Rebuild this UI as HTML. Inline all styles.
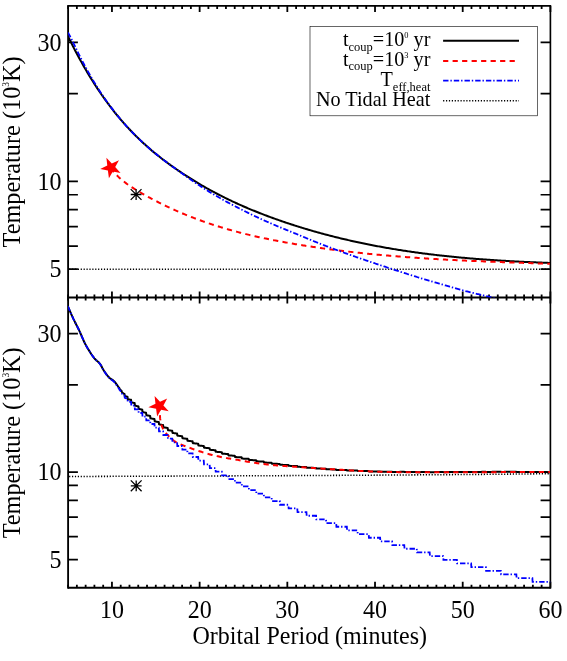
<!DOCTYPE html>
<html><head><meta charset="utf-8"><title>Tidal heating</title>
<style>html,body{margin:0;padding:0;background:#fff;}svg{display:block;will-change:transform;}text{fill:#000;font-family:"Liberation Serif",serif;}</style></head>
<body>
<svg width="567" height="661" viewBox="0 0 567 661">
<rect x="0" y="0" width="567" height="661" fill="#ffffff"/>
<defs><clipPath id="ct"><rect x="68.1" y="5.9" width="482.29999999999995" height="291.5"/></clipPath><clipPath id="cb"><rect x="68.1" y="297.4" width="482.29999999999995" height="290.30000000000007"/></clipPath></defs>
<path d="M68.1,5.1000000000000005 V588.7" stroke="#000" fill="none" stroke-width="1.85"/>
<path d="M550.4,5.1000000000000005 V588.7" stroke="#000" fill="none" stroke-width="1.65"/>
<path d="M68.1,5.9 H550.4" stroke="#000" fill="none" stroke-width="1.6"/>
<path d="M68.1,297.4 H550.4 M68.1,587.7 H550.4" stroke="#000" fill="none" stroke-width="2"/>
<path d="M68.10,5.9 v3.0 M68.10,294.4 v6.0 M68.10,587.7 v-3.0 M76.87,5.9 v3.0 M76.87,294.4 v6.0 M76.87,587.7 v-3.0 M85.64,5.9 v3.0 M85.64,294.4 v6.0 M85.64,587.7 v-3.0 M94.41,5.9 v3.0 M94.41,294.4 v6.0 M94.41,587.7 v-3.0 M103.18,5.9 v3.0 M103.18,294.4 v6.0 M103.18,587.7 v-3.0 M111.95,5.9 v6.0 M111.95,291.4 v12.0 M111.95,587.7 v-6.0 M120.71,5.9 v3.0 M120.71,294.4 v6.0 M120.71,587.7 v-3.0 M129.48,5.9 v3.0 M129.48,294.4 v6.0 M129.48,587.7 v-3.0 M138.25,5.9 v3.0 M138.25,294.4 v6.0 M138.25,587.7 v-3.0 M147.02,5.9 v3.0 M147.02,294.4 v6.0 M147.02,587.7 v-3.0 M155.79,5.9 v3.0 M155.79,294.4 v6.0 M155.79,587.7 v-3.0 M164.56,5.9 v3.0 M164.56,294.4 v6.0 M164.56,587.7 v-3.0 M173.33,5.9 v3.0 M173.33,294.4 v6.0 M173.33,587.7 v-3.0 M182.10,5.9 v3.0 M182.10,294.4 v6.0 M182.10,587.7 v-3.0 M190.87,5.9 v3.0 M190.87,294.4 v6.0 M190.87,587.7 v-3.0 M199.64,5.9 v6.0 M199.64,291.4 v12.0 M199.64,587.7 v-6.0 M208.41,5.9 v3.0 M208.41,294.4 v6.0 M208.41,587.7 v-3.0 M217.17,5.9 v3.0 M217.17,294.4 v6.0 M217.17,587.7 v-3.0 M225.94,5.9 v3.0 M225.94,294.4 v6.0 M225.94,587.7 v-3.0 M234.71,5.9 v3.0 M234.71,294.4 v6.0 M234.71,587.7 v-3.0 M243.48,5.9 v3.0 M243.48,294.4 v6.0 M243.48,587.7 v-3.0 M252.25,5.9 v3.0 M252.25,294.4 v6.0 M252.25,587.7 v-3.0 M261.02,5.9 v3.0 M261.02,294.4 v6.0 M261.02,587.7 v-3.0 M269.79,5.9 v3.0 M269.79,294.4 v6.0 M269.79,587.7 v-3.0 M278.56,5.9 v3.0 M278.56,294.4 v6.0 M278.56,587.7 v-3.0 M287.33,5.9 v6.0 M287.33,291.4 v12.0 M287.33,587.7 v-6.0 M296.10,5.9 v3.0 M296.10,294.4 v6.0 M296.10,587.7 v-3.0 M304.87,5.9 v3.0 M304.87,294.4 v6.0 M304.87,587.7 v-3.0 M313.63,5.9 v3.0 M313.63,294.4 v6.0 M313.63,587.7 v-3.0 M322.40,5.9 v3.0 M322.40,294.4 v6.0 M322.40,587.7 v-3.0 M331.17,5.9 v3.0 M331.17,294.4 v6.0 M331.17,587.7 v-3.0 M339.94,5.9 v3.0 M339.94,294.4 v6.0 M339.94,587.7 v-3.0 M348.71,5.9 v3.0 M348.71,294.4 v6.0 M348.71,587.7 v-3.0 M357.48,5.9 v3.0 M357.48,294.4 v6.0 M357.48,587.7 v-3.0 M366.25,5.9 v3.0 M366.25,294.4 v6.0 M366.25,587.7 v-3.0 M375.02,5.9 v6.0 M375.02,291.4 v12.0 M375.02,587.7 v-6.0 M383.79,5.9 v3.0 M383.79,294.4 v6.0 M383.79,587.7 v-3.0 M392.56,5.9 v3.0 M392.56,294.4 v6.0 M392.56,587.7 v-3.0 M401.33,5.9 v3.0 M401.33,294.4 v6.0 M401.33,587.7 v-3.0 M410.09,5.9 v3.0 M410.09,294.4 v6.0 M410.09,587.7 v-3.0 M418.86,5.9 v3.0 M418.86,294.4 v6.0 M418.86,587.7 v-3.0 M427.63,5.9 v3.0 M427.63,294.4 v6.0 M427.63,587.7 v-3.0 M436.40,5.9 v3.0 M436.40,294.4 v6.0 M436.40,587.7 v-3.0 M445.17,5.9 v3.0 M445.17,294.4 v6.0 M445.17,587.7 v-3.0 M453.94,5.9 v3.0 M453.94,294.4 v6.0 M453.94,587.7 v-3.0 M462.71,5.9 v6.0 M462.71,291.4 v12.0 M462.71,587.7 v-6.0 M471.48,5.9 v3.0 M471.48,294.4 v6.0 M471.48,587.7 v-3.0 M480.25,5.9 v3.0 M480.25,294.4 v6.0 M480.25,587.7 v-3.0 M489.02,5.9 v3.0 M489.02,294.4 v6.0 M489.02,587.7 v-3.0 M497.79,5.9 v3.0 M497.79,294.4 v6.0 M497.79,587.7 v-3.0 M506.55,5.9 v3.0 M506.55,294.4 v6.0 M506.55,587.7 v-3.0 M515.32,5.9 v3.0 M515.32,294.4 v6.0 M515.32,587.7 v-3.0 M524.09,5.9 v3.0 M524.09,294.4 v6.0 M524.09,587.7 v-3.0 M532.86,5.9 v3.0 M532.86,294.4 v6.0 M532.86,587.7 v-3.0 M541.63,5.9 v3.0 M541.63,294.4 v6.0 M541.63,587.7 v-3.0 M550.40,5.9 v6.0 M550.40,291.4 v12.0 M550.40,587.7 v-6.0" stroke="#000" stroke-width="1.8" fill="none"/>
<path d="M68.1,269.15 h9.8 M550.4,269.15 h-9.8 M68.1,559.57 h9.8 M550.4,559.57 h-9.8 M68.1,246.07 h9.8 M550.4,246.07 h-9.8 M68.1,536.58 h9.8 M550.4,536.58 h-9.8 M68.1,226.55 h9.8 M550.4,226.55 h-9.8 M68.1,517.15 h9.8 M550.4,517.15 h-9.8 M68.1,209.65 h9.8 M550.4,209.65 h-9.8 M68.1,500.31 h9.8 M550.4,500.31 h-9.8 M68.1,194.74 h9.8 M550.4,194.74 h-9.8 M68.1,485.46 h9.8 M550.4,485.46 h-9.8 M68.1,181.40 h9.8 M550.4,181.40 h-9.8 M68.1,472.18 h9.8 M550.4,472.18 h-9.8 M68.1,93.65 h9.8 M550.4,93.65 h-9.8 M68.1,384.79 h9.8 M550.4,384.79 h-9.8 M68.1,42.32 h9.8 M550.4,42.32 h-9.8 M68.1,333.67 h9.8 M550.4,333.67 h-9.8" stroke="#000" stroke-width="1.7" fill="none"/>
<g clip-path="url(#ct)">
<path d="M69.1,269.15 H550.4" stroke="#000" stroke-width="1.55" stroke-dasharray="1.2 1.7" fill="none"/>
<path d="M68.00,36.31 L69.21,38.78 L70.42,41.22 L71.62,43.63 L72.83,46.01 L74.04,48.36 L75.25,50.69 L76.46,52.98 L77.66,55.24 L78.87,57.48 L80.08,59.69 L81.29,61.87 L82.50,64.03 L83.70,66.15 L84.91,68.25 L86.12,70.33 L87.33,72.37 L88.54,74.39 L89.74,76.39 L90.95,78.36 L92.16,80.30 L93.37,82.22 L94.58,84.12 L95.78,85.99 L96.99,87.83 L98.20,89.65 L99.41,91.45 L100.62,93.23 L101.82,94.98 L103.03,96.71 L104.24,98.41 L105.45,100.10 L106.66,101.76 L107.86,103.40 L109.07,105.02 L110.28,106.61 L111.49,108.19 L112.70,109.74 L113.90,111.28 L115.11,112.79 L116.32,114.29 L117.53,115.76 L118.74,117.22 L119.94,118.65 L121.15,120.07 L122.36,121.47 L123.57,122.85 L124.78,124.21 L125.98,125.56 L127.19,126.88 L128.40,128.19 L129.61,129.49 L130.82,130.76 L132.03,132.02 L133.23,133.26 L134.44,134.49 L135.65,135.70 L136.86,136.90 L138.07,138.08 L139.27,139.25 L140.48,140.40 L141.69,141.53 L142.90,142.66 L144.11,143.77 L145.31,144.86 L146.52,145.94 L147.73,147.01 L148.94,148.07 L150.15,149.11 L151.35,150.14 L152.56,151.16 L153.77,152.17 L154.98,153.17 L156.19,154.15 L157.39,155.13 L158.60,156.09 L159.81,157.05 L161.02,157.99 L162.23,158.92 L163.43,159.85 L164.64,160.76 L165.85,161.67 L167.06,162.56 L168.27,163.45 L169.47,164.33 L170.68,165.20 L171.89,166.07 L173.10,166.93 L174.31,167.78 L175.51,168.62 L176.72,169.46 L177.93,170.29 L179.14,171.11 L180.35,171.92 L181.55,172.73 L182.76,173.53 L183.97,174.33 L185.18,175.12 L186.39,175.90 L187.59,176.68 L188.80,177.45 L190.01,178.21 L191.22,178.97 L192.43,179.72 L193.63,180.47 L194.84,181.20 L196.05,181.94 L197.26,182.66 L198.47,183.38 L199.67,184.10 L200.88,184.81 L202.09,185.51 L203.30,186.20 L204.51,186.90 L205.71,187.58 L206.92,188.26 L208.13,188.93 L209.34,189.60 L210.55,190.26 L211.75,190.92 L212.96,191.57 L214.17,192.22 L215.38,192.86 L216.59,193.49 L217.79,194.12 L219.00,194.75 L220.21,195.37 L221.42,195.98 L222.63,196.59 L223.83,197.20 L225.04,197.80 L226.25,198.39 L227.46,198.98 L228.67,199.56 L229.87,200.14 L231.08,200.72 L232.29,201.29 L233.50,201.86 L234.71,202.42 L235.91,202.97 L237.12,203.52 L238.33,204.07 L239.54,204.62 L240.75,205.15 L241.95,205.69 L243.16,206.22 L244.37,206.74 L245.58,207.27 L246.79,207.78 L247.99,208.30 L249.20,208.80 L250.41,209.31 L251.62,209.81 L252.83,210.31 L254.04,210.80 L255.24,211.29 L256.45,211.78 L257.66,212.26 L258.87,212.74 L260.08,213.21 L261.28,213.68 L262.49,214.15 L263.70,214.62 L264.91,215.08 L266.12,215.53 L267.32,215.99 L268.53,216.44 L269.74,216.89 L270.95,217.33 L272.16,217.77 L273.36,218.21 L274.57,218.64 L275.78,219.08 L276.99,219.50 L278.20,219.93 L279.40,220.35 L280.61,220.77 L281.82,221.19 L283.03,221.60 L284.24,222.02 L285.44,222.43 L286.65,222.83 L287.86,223.24 L289.07,223.64 L290.28,224.03 L291.48,224.43 L292.69,224.82 L293.90,225.21 L295.11,225.60 L296.32,225.98 L297.52,226.36 L298.73,226.74 L299.94,227.12 L301.15,227.49 L302.36,227.87 L303.56,228.23 L304.77,228.60 L305.98,228.96 L307.19,229.32 L308.40,229.68 L309.60,230.04 L310.81,230.39 L312.02,230.74 L313.23,231.09 L314.44,231.43 L315.64,231.78 L316.85,232.12 L318.06,232.45 L319.27,232.79 L320.48,233.12 L321.68,233.45 L322.89,233.78 L324.10,234.11 L325.31,234.43 L326.52,234.75 L327.72,235.07 L328.93,235.38 L330.14,235.70 L331.35,236.01 L332.56,236.32 L333.76,236.62 L334.97,236.93 L336.18,237.23 L337.39,237.53 L338.60,237.82 L339.80,238.12 L341.01,238.41 L342.22,238.70 L343.43,238.99 L344.64,239.27 L345.84,239.56 L347.05,239.84 L348.26,240.11 L349.47,240.39 L350.68,240.66 L351.88,240.94 L353.09,241.21 L354.30,241.47 L355.51,241.74 L356.72,242.00 L357.92,242.26 L359.13,242.52 L360.34,242.78 L361.55,243.03 L362.76,243.28 L363.96,243.53 L365.17,243.78 L366.38,244.03 L367.59,244.27 L368.80,244.51 L370.01,244.75 L371.21,244.99 L372.42,245.22 L373.63,245.46 L374.84,245.69 L376.05,245.92 L377.25,246.15 L378.46,246.37 L379.67,246.59 L380.88,246.82 L382.09,247.03 L383.29,247.25 L384.50,247.47 L385.71,247.68 L386.92,247.89 L388.13,248.10 L389.33,248.31 L390.54,248.52 L391.75,248.72 L392.96,248.92 L394.17,249.12 L395.37,249.32 L396.58,249.52 L397.79,249.71 L399.00,249.90 L400.21,250.10 L401.41,250.28 L402.62,250.47 L403.83,250.66 L405.04,250.84 L406.25,251.02 L407.45,251.20 L408.66,251.38 L409.87,251.56 L411.08,251.73 L412.29,251.91 L413.49,252.08 L414.70,252.25 L415.91,252.42 L417.12,252.58 L418.33,252.75 L419.53,252.91 L420.74,253.07 L421.95,253.23 L423.16,253.39 L424.37,253.55 L425.57,253.70 L426.78,253.86 L427.99,254.01 L429.20,254.16 L430.41,254.31 L431.61,254.45 L432.82,254.60 L434.03,254.74 L435.24,254.88 L436.45,255.03 L437.65,255.17 L438.86,255.30 L440.07,255.44 L441.28,255.57 L442.49,255.71 L443.69,255.84 L444.90,255.97 L446.11,256.10 L447.32,256.23 L448.53,256.35 L449.73,256.48 L450.94,256.60 L452.15,256.72 L453.36,256.85 L454.57,256.96 L455.77,257.08 L456.98,257.20 L458.19,257.31 L459.40,257.43 L460.61,257.54 L461.81,257.65 L463.02,257.76 L464.23,257.87 L465.44,257.98 L466.65,258.08 L467.85,258.19 L469.06,258.29 L470.27,258.40 L471.48,258.50 L472.69,258.60 L473.89,258.70 L475.10,258.79 L476.31,258.89 L477.52,258.98 L478.73,259.08 L479.93,259.17 L481.14,259.26 L482.35,259.35 L483.56,259.44 L484.77,259.53 L485.97,259.62 L487.18,259.71 L488.39,259.79 L489.60,259.87 L490.81,259.96 L492.02,260.04 L493.22,260.12 L494.43,260.20 L495.64,260.28 L496.85,260.36 L498.06,260.43 L499.26,260.51 L500.47,260.58 L501.68,260.66 L502.89,260.73 L504.10,260.80 L505.30,260.87 L506.51,260.94 L507.72,261.01 L508.93,261.08 L510.14,261.15 L511.34,261.21 L512.55,261.28 L513.76,261.34 L514.97,261.41 L516.18,261.47 L517.38,261.53 L518.59,261.59 L519.80,261.65 L521.01,261.71 L522.22,261.77 L523.42,261.83 L524.63,261.88 L525.84,261.94 L527.05,262.00 L528.26,262.05 L529.46,262.11 L530.67,262.16 L531.88,262.21 L533.09,262.26 L534.30,262.31 L535.50,262.36 L536.71,262.41 L537.92,262.46 L539.13,262.51 L540.34,262.56 L541.54,262.61 L542.75,262.65 L543.96,262.70 L545.17,262.74 L546.38,262.79 L547.58,262.83 L548.79,262.88 L550.00,262.92" stroke="#000" stroke-width="2" fill="none" stroke-linejoin="round"/>
<path d="M110.50,168.16 L111.60,169.51 L112.70,170.81 L113.80,172.06 L114.91,173.27 L116.01,174.43 L117.11,175.54 L118.21,176.62 L119.31,177.65 L120.41,178.65 L121.52,179.61 L122.62,180.53 L123.72,181.43 L124.82,182.29 L125.92,183.13 L127.02,183.94 L128.12,184.73 L129.23,185.49 L130.33,186.23 L131.43,186.96 L132.53,187.67 L133.63,188.37 L134.73,189.05 L135.83,189.73 L136.94,190.39 L138.04,191.05 L139.14,191.71 L140.24,192.36 L141.34,193.00 L142.44,193.64 L143.55,194.27 L144.65,194.90 L145.75,195.52 L146.85,196.13 L147.95,196.74 L149.05,197.35 L150.15,197.95 L151.26,198.55 L152.36,199.14 L153.46,199.72 L154.56,200.30 L155.66,200.88 L156.76,201.45 L157.86,202.01 L158.97,202.57 L160.07,203.13 L161.17,203.68 L162.27,204.22 L163.37,204.76 L164.47,205.30 L165.58,205.83 L166.68,206.36 L167.78,206.88 L168.88,207.40 L169.98,207.91 L171.08,208.42 L172.18,208.92 L173.29,209.42 L174.39,209.92 L175.49,210.41 L176.59,210.90 L177.69,211.38 L178.79,211.85 L179.89,212.33 L181.00,212.80 L182.10,213.26 L183.20,213.72 L184.30,214.18 L185.40,214.63 L186.50,215.08 L187.61,215.53 L188.71,215.97 L189.81,216.40 L190.91,216.84 L192.01,217.26 L193.11,217.69 L194.21,218.11 L195.32,218.53 L196.42,218.94 L197.52,219.35 L198.62,219.76 L199.72,220.16 L200.82,220.56 L201.92,220.96 L203.03,221.35 L204.13,221.73 L205.23,222.12 L206.33,222.50 L207.43,222.88 L208.53,223.25 L209.64,223.62 L210.74,223.99 L211.84,224.35 L212.94,224.71 L214.04,225.07 L215.14,225.42 L216.24,225.78 L217.35,226.12 L218.45,226.47 L219.55,226.81 L220.65,227.14 L221.75,227.48 L222.85,227.81 L223.95,228.14 L225.06,228.46 L226.16,228.79 L227.26,229.11 L228.36,229.42 L229.46,229.73 L230.56,230.04 L231.67,230.35 L232.77,230.66 L233.87,230.96 L234.97,231.26 L236.07,231.55 L237.17,231.85 L238.27,232.14 L239.38,232.43 L240.48,232.71 L241.58,232.99 L242.68,233.27 L243.78,233.55 L244.88,233.82 L245.98,234.10 L247.09,234.37 L248.19,234.63 L249.29,234.90 L250.39,235.16 L251.49,235.42 L252.59,235.68 L253.70,235.93 L254.80,236.19 L255.90,236.44 L257.00,236.68 L258.10,236.93 L259.20,237.17 L260.30,237.42 L261.41,237.65 L262.51,237.89 L263.61,238.13 L264.71,238.36 L265.81,238.59 L266.91,238.82 L268.02,239.05 L269.12,239.27 L270.22,239.49 L271.32,239.72 L272.42,239.93 L273.52,240.15 L274.62,240.37 L275.73,240.58 L276.83,240.79 L277.93,241.00 L279.03,241.21 L280.13,241.42 L281.23,241.62 L282.33,241.83 L283.44,242.03 L284.54,242.23 L285.64,242.43 L286.74,242.62 L287.84,242.82 L288.94,243.01 L290.05,243.21 L291.15,243.40 L292.25,243.59 L293.35,243.77 L294.45,243.96 L295.55,244.15 L296.65,244.33 L297.76,244.51 L298.86,244.70 L299.96,244.88 L301.06,245.06 L302.16,245.23 L303.26,245.41 L304.36,245.59 L305.47,245.76 L306.57,245.93 L307.67,246.10 L308.77,246.27 L309.87,246.44 L310.97,246.61 L312.08,246.78 L313.18,246.94 L314.28,247.11 L315.38,247.27 L316.48,247.43 L317.58,247.59 L318.68,247.75 L319.79,247.91 L320.89,248.07 L321.99,248.22 L323.09,248.38 L324.19,248.53 L325.29,248.68 L326.39,248.83 L327.50,248.98 L328.60,249.13 L329.70,249.28 L330.80,249.43 L331.90,249.57 L333.00,249.71 L334.11,249.86 L335.21,250.00 L336.31,250.14 L337.41,250.28 L338.51,250.42 L339.61,250.56 L340.71,250.69 L341.82,250.83 L342.92,250.96 L344.02,251.10 L345.12,251.23 L346.22,251.36 L347.32,251.49 L348.42,251.62 L349.53,251.75 L350.63,251.87 L351.73,252.00 L352.83,252.13 L353.93,252.25 L355.03,252.37 L356.14,252.49 L357.24,252.62 L358.34,252.74 L359.44,252.85 L360.54,252.97 L361.64,253.09 L362.74,253.21 L363.85,253.32 L364.95,253.44 L366.05,253.55 L367.15,253.66 L368.25,253.77 L369.35,253.88 L370.45,253.99 L371.56,254.10 L372.66,254.21 L373.76,254.32 L374.86,254.42 L375.96,254.53 L377.06,254.63 L378.17,254.73 L379.27,254.84 L380.37,254.94 L381.47,255.04 L382.57,255.14 L383.67,255.24 L384.77,255.33 L385.88,255.43 L386.98,255.53 L388.08,255.62 L389.18,255.72 L390.28,255.81 L391.38,255.91 L392.48,256.00 L393.59,256.09 L394.69,256.18 L395.79,256.27 L396.89,256.36 L397.99,256.45 L399.09,256.53 L400.20,256.62 L401.30,256.71 L402.40,256.79 L403.50,256.88 L404.60,256.96 L405.70,257.04 L406.80,257.13 L407.91,257.21 L409.01,257.29 L410.11,257.37 L411.21,257.45 L412.31,257.53 L413.41,257.61 L414.52,257.68 L415.62,257.76 L416.72,257.84 L417.82,257.91 L418.92,257.99 L420.02,258.06 L421.12,258.13 L422.23,258.21 L423.33,258.28 L424.43,258.35 L425.53,258.42 L426.63,258.49 L427.73,258.56 L428.83,258.63 L429.94,258.70 L431.04,258.76 L432.14,258.83 L433.24,258.90 L434.34,258.96 L435.44,259.03 L436.55,259.09 L437.65,259.16 L438.75,259.22 L439.85,259.28 L440.95,259.35 L442.05,259.41 L443.15,259.47 L444.26,259.53 L445.36,259.59 L446.46,259.65 L447.56,259.71 L448.66,259.77 L449.76,259.83 L450.86,259.89 L451.97,259.94 L453.07,260.00 L454.17,260.06 L455.27,260.11 L456.37,260.17 L457.47,260.22 L458.58,260.28 L459.68,260.33 L460.78,260.39 L461.88,260.44 L462.98,260.49 L464.08,260.54 L465.18,260.60 L466.29,260.65 L467.39,260.70 L468.49,260.75 L469.59,260.80 L470.69,260.85 L471.79,260.90 L472.89,260.95 L474.00,261.00 L475.10,261.04 L476.20,261.09 L477.30,261.14 L478.40,261.19 L479.50,261.23 L480.61,261.28 L481.71,261.33 L482.81,261.37 L483.91,261.42 L485.01,261.46 L486.11,261.51 L487.21,261.55 L488.32,261.60 L489.42,261.64 L490.52,261.69 L491.62,261.73 L492.72,261.77 L493.82,261.82 L494.92,261.86 L496.03,261.90 L497.13,261.94 L498.23,261.98 L499.33,262.03 L500.43,262.07 L501.53,262.11 L502.64,262.15 L503.74,262.19 L504.84,262.23 L505.94,262.27 L507.04,262.31 L508.14,262.35 L509.24,262.39 L510.35,262.43 L511.45,262.47 L512.55,262.51 L513.65,262.55 L514.75,262.59 L515.85,262.63 L516.95,262.67 L518.06,262.70 L519.16,262.74 L520.26,262.78 L521.36,262.82 L522.46,262.86 L523.56,262.89 L524.67,262.93 L525.77,262.97 L526.87,263.01 L527.97,263.04 L529.07,263.08 L530.17,263.12 L531.27,263.16 L532.38,263.19 L533.48,263.23 L534.58,263.27 L535.68,263.30 L536.78,263.34 L537.88,263.38 L538.98,263.42 L540.09,263.45 L541.19,263.49 L542.29,263.53 L543.39,263.56 L544.49,263.60 L545.59,263.64 L546.70,263.67 L547.80,263.71 L548.90,263.75 L550.00,263.78" stroke="#ff0000" stroke-width="2" stroke-dasharray="5.2 4.3" fill="none"/>
<path d="M68.00,32.51 L68.87,34.14 L69.73,35.79 L70.60,37.45 L71.46,39.13 L72.33,40.82 L73.19,42.53 L74.06,44.29 L74.93,46.08 L75.79,47.88 L76.66,49.70 L77.52,51.51 L78.39,53.30 L79.25,55.06 L80.12,56.78 L80.99,58.47 L81.85,60.15 L82.72,61.81 L83.58,63.46 L84.45,65.08 L85.31,66.69 L86.18,68.28 L87.05,69.86 L87.91,71.41 L88.78,72.95 L89.64,74.48 L90.51,75.99 L91.37,77.49 L92.24,78.97 L93.11,80.44 L93.97,81.89 L94.84,83.32 L95.70,84.74 L96.57,86.14 L97.43,87.53 L98.30,88.89 L99.17,90.24 L100.03,91.57 L100.90,92.89 L101.76,94.19 L102.63,95.47 L103.49,96.75 L104.36,98.00 L105.23,99.25 L106.09,100.48 L106.96,101.70 L107.82,102.91 L108.69,104.10 L109.56,105.28 L110.42,106.45 L111.29,107.61 L112.15,108.75 L113.02,109.89 L113.88,111.01 L114.75,112.13 L115.62,113.23 L116.48,114.32 L117.35,115.41 L118.21,116.48 L119.08,117.54 L119.94,118.59 L120.81,119.62 L121.68,120.65 L122.54,121.66 L123.41,122.66 L124.27,123.64 L125.14,124.62 L126.00,125.58 L126.87,126.53 L127.74,127.47 L128.60,128.41 L129.47,129.33 L130.33,130.25 L131.20,131.16 L132.06,132.06 L132.93,132.95 L133.80,133.84 L134.66,134.71 L135.53,135.58 L136.39,136.44 L137.26,137.29 L138.12,138.14 L138.99,138.97 L139.86,139.80 L140.72,140.62 L141.59,141.44 L142.45,142.24 L143.32,143.04 L144.18,143.84 L145.05,144.62 L145.92,145.40 L146.78,146.17 L147.65,146.94 L148.51,147.70 L149.38,148.45 L150.24,149.20 L151.11,149.94 L151.98,150.67 L152.84,151.40 L153.71,152.12 L154.57,152.84 L155.44,153.55 L156.30,154.26 L157.17,154.96 L158.04,155.65 L158.90,156.34 L159.77,157.03 L160.63,157.71 L161.50,158.38 L162.36,159.05 L163.23,159.72 L164.10,160.38 L164.96,161.04 L165.83,161.69 L166.69,162.34 L167.56,162.98 L168.42,163.62 L169.29,164.26 L170.16,164.89 L171.02,165.52 L171.89,166.14 L172.75,166.77 L173.62,167.38 L174.48,168.00 L175.35,168.61 L176.22,169.23 L177.08,169.84 L177.95,170.47 L178.81,171.09 L179.68,171.72 L180.55,172.35 L181.41,172.97 L182.28,173.60 L183.14,174.22 L184.01,174.84 L184.87,175.46 L185.74,176.07 L186.61,176.68 L187.47,177.29 L188.34,177.89 L189.20,178.50 L190.07,179.11 L190.93,179.71 L191.80,180.32 L192.67,180.92 L193.53,181.52 L194.40,182.11 L195.26,182.70 L196.13,183.29 L196.99,183.88 L197.86,184.46 L198.73,185.03 L199.59,185.60 L200.46,186.17 L201.32,186.73 L202.19,187.29 L203.05,187.85 L203.92,188.41 L204.79,188.96 L205.65,189.50 L206.52,190.05 L207.38,190.59 L208.25,191.13 L209.11,191.66 L209.98,192.20 L210.85,192.72 L211.71,193.25 L212.58,193.77 L213.44,194.29 L214.31,194.80 L215.17,195.32 L216.04,195.82 L216.91,196.33 L217.77,196.83 L218.64,197.33 L219.50,197.82 L220.37,198.31 L221.23,198.80 L222.10,199.29 L222.97,199.77 L223.83,200.25 L224.70,200.73 L225.56,201.20 L226.43,201.67 L227.29,202.14 L228.16,202.61 L229.03,203.07 L229.89,203.54 L230.76,204.00 L231.62,204.46 L232.49,204.91 L233.35,205.37 L234.22,205.82 L235.09,206.27 L235.95,206.72 L236.82,207.16 L237.68,207.61 L238.55,208.05 L239.41,208.50 L240.28,208.94 L241.15,209.38 L242.01,209.82 L242.88,210.26 L243.74,210.69 L244.61,211.13 L245.47,211.56 L246.34,211.99 L247.21,212.42 L248.07,212.84 L248.94,213.27 L249.80,213.69 L250.67,214.12 L251.54,214.54 L252.40,214.96 L253.27,215.37 L254.13,215.79 L255.00,216.20 L255.86,216.61 L256.73,217.02 L257.60,217.42 L258.46,217.83 L259.33,218.23 L260.19,218.63 L261.06,219.03 L261.92,219.42 L262.79,219.82 L263.66,220.21 L264.52,220.60 L265.39,220.98 L266.25,221.37 L267.12,221.75 L267.98,222.13 L268.85,222.51 L269.72,222.89 L270.58,223.26 L271.45,223.64 L272.31,224.01 L273.18,224.38 L274.04,224.75 L274.91,225.12 L275.78,225.48 L276.64,225.85 L277.51,226.21 L278.37,226.58 L279.24,226.94 L280.10,227.30 L280.97,227.67 L281.84,228.02 L282.70,228.38 L283.57,228.74 L284.43,229.09 L285.30,229.45 L286.16,229.80 L287.03,230.15 L287.90,230.50 L288.76,230.85 L289.63,231.21 L290.49,231.56 L291.36,231.91 L292.22,232.26 L293.09,232.61 L293.96,232.96 L294.82,233.32 L295.69,233.67 L296.55,234.03 L297.42,234.39 L298.28,234.74 L299.15,235.10 L300.02,235.46 L300.88,235.82 L301.75,236.18 L302.61,236.54 L303.48,236.90 L304.34,237.27 L305.21,237.63 L306.08,237.99 L306.94,238.35 L307.81,238.71 L308.67,239.07 L309.54,239.43 L310.40,239.79 L311.27,240.14 L312.14,240.50 L313.00,240.85 L313.87,241.21 L314.73,241.56 L315.60,241.91 L316.46,242.26 L317.33,242.61 L318.20,242.95 L319.06,243.29 L319.93,243.63 L320.79,243.97 L321.66,244.31 L322.53,244.65 L323.39,244.99 L324.26,245.32 L325.12,245.66 L325.99,245.99 L326.85,246.32 L327.72,246.65 L328.59,246.99 L329.45,247.31 L330.32,247.64 L331.18,247.97 L332.05,248.30 L332.91,248.62 L333.78,248.95 L334.65,249.27 L335.51,249.60 L336.38,249.92 L337.24,250.24 L338.11,250.56 L338.97,250.88 L339.84,251.19 L340.71,251.51 L341.57,251.83 L342.44,252.14 L343.30,252.46 L344.17,252.77 L345.03,253.08 L345.90,253.39 L346.77,253.70 L347.63,254.01 L348.50,254.32 L349.36,254.63 L350.23,254.93 L351.09,255.24 L351.96,255.54 L352.83,255.84 L353.69,256.14 L354.56,256.45 L355.42,256.75 L356.29,257.05 L357.15,257.34 L358.02,257.64 L358.89,257.94 L359.75,258.24 L360.62,258.53 L361.48,258.83 L362.35,259.12 L363.21,259.42 L364.08,259.71 L364.95,260.01 L365.81,260.30 L366.68,260.59 L367.54,260.89 L368.41,261.18 L369.27,261.47 L370.14,261.77 L371.01,262.06 L371.87,262.35 L372.74,262.64 L373.60,262.93 L374.47,263.22 L375.33,263.51 L376.20,263.80 L377.07,264.09 L377.93,264.38 L378.80,264.67 L379.66,264.96 L380.53,265.25 L381.39,265.54 L382.26,265.82 L383.13,266.11 L383.99,266.40 L384.86,266.68 L385.72,266.97 L386.59,267.25 L387.45,267.54 L388.32,267.82 L389.19,268.11 L390.05,268.39 L390.92,268.67 L391.78,268.95 L392.65,269.24 L393.52,269.52 L394.38,269.80 L395.25,270.08 L396.11,270.36 L396.98,270.64 L397.84,270.92 L398.71,271.20 L399.58,271.49 L400.44,271.77 L401.31,272.05 L402.17,272.33 L403.04,272.61 L403.90,272.89 L404.77,273.17 L405.64,273.44 L406.50,273.72 L407.37,274.00 L408.23,274.28 L409.10,274.55 L409.96,274.82 L410.83,275.10 L411.70,275.37 L412.56,275.64 L413.43,275.91 L414.29,276.18 L415.16,276.45 L416.02,276.72 L416.89,276.99 L417.76,277.25 L418.62,277.52 L419.49,277.78 L420.35,278.05 L421.22,278.31 L422.08,278.57 L422.95,278.84 L423.82,279.10 L424.68,279.36 L425.55,279.62 L426.41,279.88 L427.28,280.14 L428.14,280.40 L429.01,280.66 L429.88,280.91 L430.74,281.17 L431.61,281.43 L432.47,281.68 L433.34,281.94 L434.20,282.19 L435.07,282.45 L435.94,282.70 L436.80,282.95 L437.67,283.21 L438.53,283.46 L439.40,283.71 L440.26,283.96 L441.13,284.21 L442.00,284.47 L442.86,284.72 L443.73,284.97 L444.59,285.22 L445.46,285.47 L446.32,285.73 L447.19,285.98 L448.06,286.23 L448.92,286.48 L449.79,286.73 L450.65,286.98 L451.52,287.23 L452.38,287.48 L453.25,287.72 L454.12,287.97 L454.98,288.21 L455.85,288.46 L456.71,288.70 L457.58,288.94 L458.44,289.18 L459.31,289.42 L460.18,289.66 L461.04,289.89 L461.91,290.12 L462.77,290.36 L463.64,290.59 L464.51,290.81 L465.37,291.04 L466.24,291.26 L467.10,291.48 L467.97,291.70 L468.83,291.92 L469.70,292.14 L470.57,292.35 L471.43,292.57 L472.30,292.78 L473.16,292.99 L474.03,293.20 L474.89,293.41 L475.76,293.62 L476.63,293.82 L477.49,294.03 L478.36,294.23 L479.22,294.44 L480.09,294.64 L480.95,294.85 L481.82,295.05 L482.69,295.26 L483.55,295.46 L484.42,295.67 L485.28,295.87 L486.15,296.08 L487.01,296.29 L487.88,296.49 L488.75,296.70 L489.61,296.91 L490.48,297.12 L491.34,297.33 L492.21,297.54 L493.07,297.75 L493.94,297.96 L494.81,298.17 L495.67,298.39 L496.54,298.60 L497.40,298.81 L498.27,299.03 L499.13,299.24 L500.00,299.45" stroke="#0000ff" stroke-width="1.8" stroke-dasharray="5.4 1.9 1.4 2.0" fill="none"/>
</g>
<g clip-path="url(#cb)">
<path d="M69.10,476.50 L77.26,476.47 L85.42,476.44 L93.57,476.41 L101.73,476.38 L109.89,476.35 L118.05,476.32 L126.20,476.29 L134.36,476.26 L142.52,476.23 L150.68,476.20 L158.83,476.17 L166.99,476.13 L175.15,476.10 L183.31,476.07 L191.46,476.04 L199.62,476.00 L207.78,475.97 L215.94,475.94 L224.09,475.90 L232.25,475.87 L240.41,475.83 L248.57,475.80 L256.73,475.76 L264.88,475.72 L273.04,475.69 L281.20,475.65 L289.36,475.61 L297.51,475.57 L305.67,475.53 L313.83,475.49 L321.99,475.45 L330.14,475.41 L338.30,475.37 L346.46,475.32 L354.62,475.27 L362.77,475.22 L370.93,475.17 L379.09,475.12 L387.25,475.07 L395.41,475.01 L403.56,474.95 L411.72,474.89 L419.88,474.84 L428.04,474.78 L436.19,474.72 L444.35,474.66 L452.51,474.60 L460.67,474.54 L468.82,474.48 L476.98,474.41 L485.14,474.34 L493.30,474.27 L501.45,474.19 L509.61,474.11 L517.77,474.03 L525.93,473.94 L534.08,473.86 L542.24,473.78 L550.40,473.71" stroke="#000" stroke-width="1.55" stroke-dasharray="1.2 1.7" fill="none"/>
<path d="M67.80,306.10 L68.05,306.71 L68.31,307.32 L68.56,307.92 L68.82,308.53 L69.07,309.12 L69.32,309.72 L69.58,310.31 L69.83,310.90 L70.09,311.49 L70.34,312.08 L70.60,312.66 L70.85,313.23 L71.10,313.81 L71.36,314.38 L71.61,314.95 L71.87,315.51 L72.12,316.07 L72.37,316.63 L72.63,317.18 L72.88,317.73 L73.14,318.28 L73.39,318.82 L73.65,319.35 L73.90,319.88 L74.15,320.40 L74.41,320.92 L74.66,321.43 L74.92,321.94 L75.17,322.44 L75.42,322.94 L75.68,323.44 L75.93,323.94 L76.19,324.44 L76.44,324.94 L76.69,325.44 L76.95,325.94 L77.20,326.44 L77.46,326.94 L77.71,327.45 L77.97,327.96 L78.22,328.47 L78.47,328.99 L78.73,329.52 L78.98,330.05 L79.24,330.59 L79.49,331.14 L79.74,331.70 L80.00,332.26 L80.25,332.83 L80.51,333.41 L80.76,334.00 L81.01,334.59 L81.27,335.18 L81.52,335.77 L81.78,336.36 L82.03,336.95 L82.29,337.55 L82.54,338.14 L82.79,338.72 L83.05,339.30 L83.30,339.88 L83.56,340.45 L83.81,341.01 L84.06,341.56 L84.32,342.11 L84.57,342.64 L84.83,343.16 L85.08,343.67 L85.34,344.16 L85.59,344.65 L85.84,345.12 L86.10,345.59 L86.35,346.05 L86.61,346.50 L86.86,346.95 L87.11,347.39 L87.37,347.82 L87.62,348.25 L87.88,348.67 L88.13,349.09 L88.38,349.50 L88.64,349.91 L88.89,350.32 L89.15,350.73 L89.40,351.14 L89.66,351.55 L89.91,351.95 L90.16,352.35 L90.42,352.75 L90.67,353.14 L90.93,353.53 L91.18,353.92 L91.43,354.30 L91.69,354.67 L91.94,355.05 L92.20,355.41 L92.45,355.77 L92.71,356.13 L92.96,356.48 L93.21,356.82 L93.47,357.16 L93.72,357.48 L93.98,357.80 L94.23,358.12 L94.48,358.42 L94.74,358.71 L94.99,358.98 L95.25,359.25 L95.50,359.50 L95.75,359.75 L96.01,359.99 L96.26,360.22 L96.52,360.45 L96.77,360.68 L97.03,360.90 L97.28,361.13 L97.53,361.36 L97.79,361.58 L98.04,361.82 L98.30,362.06 L98.55,362.30 L98.80,362.56 L99.06,362.82 L99.31,363.10 L99.57,363.39 L99.82,363.69 L100.07,364.01 L100.33,364.34 L100.58,364.71 L100.84,365.12 L101.09,365.57 L101.35,366.04 L101.60,366.53 L101.85,367.03 L102.11,367.53 L102.36,368.03 L102.62,368.52 L102.87,368.98 L103.12,369.42 L103.38,369.82 L103.63,370.21 L103.89,370.60 L104.14,370.99 L104.40,371.37 L104.65,371.75 L104.90,372.13 L105.16,372.50 L105.41,372.86 L105.67,373.23 L105.92,373.58 L106.17,373.93 L106.43,374.28 L106.68,374.61 L106.94,374.94 L107.19,375.27 L107.44,375.58 L107.70,375.89 L107.95,376.19 L108.21,376.48 L108.46,376.76 L108.72,377.03 L108.97,377.28 L109.22,377.53 L109.48,377.77 L109.73,377.99 L109.99,378.20 L110.24,378.40 L110.49,378.58 L110.75,378.76 L111.00,378.93 L111.26,379.09 L111.51,379.26 L111.77,379.42 L112.02,379.58 L112.27,379.74 L112.53,379.91 L112.78,380.09 L113.04,380.28 L113.29,380.47 L113.54,380.68 L113.80,380.91 L114.05,381.15 L114.31,381.41 L114.56,381.68 L114.81,381.98 L115.07,382.28 L115.32,382.60 L115.58,382.94 L115.83,383.28 L116.09,383.63 L116.34,383.98 L116.59,384.34 L116.85,384.70 L117.10,385.06 L117.36,385.42 L117.61,385.78 L117.86,386.14 L118.12,386.49 L118.37,386.82 L118.63,387.13 L118.88,387.43 L119.14,387.72 L119.39,388.36 L119.64,388.70 L119.90,389.02 L120.15,389.33 L120.41,389.63 L120.66,389.92 L120.91,390.19 L121.17,390.45 L121.42,390.69 L121.68,390.92 L121.93,392.14 L122.18,392.40 L122.44,392.65 L122.69,392.87 L122.95,393.08 L123.20,393.28 L123.46,393.45 L123.71,393.61 L123.96,393.75 L124.22,393.87 L124.47,393.98 L124.73,395.79 L124.98,395.94 L125.23,396.07 L125.49,396.19 L125.74,396.30 L126.00,396.40 L126.25,396.48 L126.50,396.55 L126.76,396.62 L127.01,396.67 L127.27,396.71 L127.52,396.74 L127.78,399.23 L128.03,399.30 L128.28,399.34 L128.54,399.38 L128.79,399.42 L129.05,399.47 L129.30,399.51 L129.55,399.55 L129.81,399.60 L130.06,399.64 L130.32,399.68 L130.57,399.73 L130.83,399.78 L131.08,399.83 L131.33,402.38 L131.59,402.42 L131.84,402.47 L132.10,402.52 L132.35,402.58 L132.60,402.63 L132.86,402.68 L133.11,402.74 L133.37,402.79 L133.62,402.85 L133.87,402.91 L134.13,402.96 L134.38,403.02 L134.64,403.08 L134.89,405.61 L135.15,405.66 L135.40,405.72 L135.65,405.78 L135.91,405.83 L136.16,405.89 L136.42,405.94 L136.67,406.00 L136.92,406.06 L137.18,406.11 L137.43,406.17 L137.69,406.22 L137.94,406.28 L138.20,406.33 L138.45,406.39 L138.70,408.88 L138.96,408.93 L139.21,408.99 L139.47,409.04 L139.72,409.09 L139.97,409.14 L140.23,409.20 L140.48,409.25 L140.74,409.30 L140.99,409.35 L141.24,409.41 L141.50,409.46 L141.75,409.51 L142.01,409.56 L142.26,409.62 L142.52,412.08 L142.77,412.13 L143.02,412.18 L143.28,412.23 L143.53,412.28 L143.79,412.33 L144.04,412.38 L144.29,412.43 L144.55,412.48 L144.80,412.53 L145.06,412.58 L145.31,412.63 L145.56,412.68 L145.82,412.73 L146.07,412.78 L146.33,415.20 L146.58,415.25 L146.84,415.30 L147.09,415.35 L147.34,415.40 L147.60,415.44 L147.85,415.49 L148.11,415.54 L148.36,415.59 L148.61,415.64 L148.87,415.69 L149.12,415.73 L149.38,415.78 L149.63,415.83 L149.89,415.88 L150.14,415.93 L150.39,418.31 L150.65,418.36 L150.90,418.40 L151.16,418.45 L151.41,418.49 L151.66,418.54 L151.92,418.59 L152.17,418.63 L152.43,418.68 L152.68,418.72 L152.93,418.77 L153.19,418.82 L153.44,418.86 L153.70,418.91 L153.95,418.96 L154.21,419.00 L154.46,419.05 L154.71,421.38 L154.97,421.43 L155.22,421.47 L155.48,421.51 L155.73,421.56 L155.98,421.60 L156.24,421.65 L156.49,421.69 L156.75,421.73 L157.00,421.78 L157.26,421.82 L157.51,421.87 L157.76,421.91 L158.02,421.96 L158.27,422.00 L158.53,422.04 L158.78,422.09 L159.03,424.37 L159.29,424.42 L159.54,424.46 L159.80,424.50 L160.05,424.54 L160.30,424.58 L160.56,424.63 L160.81,424.67 L161.07,424.71 L161.32,424.75 L161.58,424.79 L161.83,424.84 L162.08,424.88 L162.34,424.92 L162.59,424.96 L162.85,425.00 L163.10,425.05 L163.35,427.28 L163.61,427.32 L163.86,427.36 L164.12,427.40 L164.37,427.44 L164.62,427.48 L164.88,427.52 L165.13,427.56 L165.39,427.60 L165.64,427.64 L165.90,427.68 L166.15,427.72 L166.40,427.76 L166.66,427.80 L166.91,427.84 L167.17,427.88 L167.42,427.92 L167.67,427.96 L167.93,430.14 L168.18,430.18 L168.44,430.22 L168.69,430.25 L168.95,430.29 L169.20,430.33 L169.45,430.37 L169.71,430.40 L169.96,430.44 L170.22,430.48 L170.47,430.52 L170.72,430.55 L170.98,430.59 L171.23,430.63 L171.49,430.67 L171.74,430.71 L171.99,430.75 L172.25,430.78 L172.50,432.91 L172.76,432.94 L173.01,432.98 L173.27,433.01 L173.52,433.05 L173.77,433.08 L174.03,433.12 L174.28,433.15 L174.54,433.19 L174.79,433.22 L175.04,433.26 L175.30,433.29 L175.55,433.33 L175.81,433.37 L176.06,433.40 L176.32,433.44 L176.57,433.47 L176.82,433.51 L177.08,433.55 L177.33,435.61 L177.59,435.64 L177.84,435.67 L178.09,435.70 L178.35,435.74 L178.60,435.77 L178.86,435.80 L179.11,435.84 L179.36,435.87 L179.62,435.90 L179.87,435.94 L180.13,435.97 L180.38,436.00 L180.64,436.04 L180.89,436.07 L181.14,436.11 L181.40,436.14 L181.65,436.17 L181.91,436.21 L182.16,436.24 L182.41,438.23 L182.67,438.26 L182.92,438.29 L183.18,438.33 L183.43,438.36 L183.68,438.39 L183.94,438.42 L184.19,438.45 L184.45,438.48 L184.70,438.51 L184.96,438.54 L185.21,438.57 L185.46,438.61 L185.72,438.64 L185.97,438.67 L186.23,438.70 L186.48,438.73 L186.73,438.76 L186.99,438.79 L187.24,438.83 L187.50,440.75 L187.75,440.78 L188.01,440.81 L188.26,440.83 L188.51,440.86 L188.77,440.89 L189.02,440.92 L189.28,440.95 L189.53,440.98 L189.78,441.01 L190.04,441.04 L190.29,441.07 L190.55,441.09 L190.80,441.12 L191.05,441.15 L191.31,441.18 L191.56,441.21 L191.82,441.24 L192.07,441.27 L192.33,441.30 L192.58,441.33 L192.83,443.18 L193.09,443.20 L193.34,443.23 L193.60,443.26 L193.85,443.28 L194.10,443.31 L194.36,443.33 L194.61,443.36 L194.87,443.39 L195.12,443.41 L195.38,443.44 L195.63,443.47 L195.88,443.49 L196.14,443.52 L196.39,443.55 L196.65,443.57 L196.90,443.60 L197.15,443.63 L197.41,443.66 L197.66,443.68 L197.92,443.71 L198.17,443.74 L198.42,445.51 L198.68,445.53 L198.93,445.56 L199.19,445.58 L199.44,445.60 L199.70,445.63 L199.95,445.65 L200.20,445.68 L200.46,445.70 L200.71,445.72 L200.97,445.75 L201.22,445.77 L201.47,445.80 L201.73,445.82 L201.98,445.85 L202.24,445.87 L202.49,445.90 L202.75,445.92 L203.00,445.94 L203.25,445.97 L203.51,445.99 L203.76,446.02 L204.02,447.71 L204.27,447.74 L204.52,447.76 L204.78,447.78 L205.03,447.80 L205.29,447.82 L205.54,447.84 L205.79,447.86 L206.05,447.89 L206.30,447.91 L206.56,447.93 L206.81,447.95 L207.07,447.97 L207.32,448.00 L207.57,448.02 L207.83,448.04 L208.08,448.06 L208.34,448.08 L208.59,448.11 L208.84,448.13 L209.10,448.15 L209.35,448.17 L209.61,448.20 L209.86,449.81 L210.11,449.83 L210.37,449.85 L210.62,449.87 L210.88,449.89 L211.13,449.91 L211.39,449.93 L211.64,449.95 L211.89,449.97 L212.15,449.99 L212.40,450.01 L212.66,450.03 L212.91,450.05 L213.16,450.07 L213.42,450.09 L213.67,450.11 L213.93,450.13 L214.18,450.15 L214.44,450.17 L214.69,450.19 L214.94,450.21 L215.20,450.23 L215.45,450.25 L215.71,451.78 L215.96,451.80 L216.21,451.82 L216.47,451.83 L216.72,451.85 L216.98,451.87 L217.23,451.89 L217.48,451.90 L217.74,451.92 L217.99,451.94 L218.25,451.96 L218.50,451.97 L218.76,451.99 L219.01,452.01 L219.26,452.03 L219.52,452.04 L219.77,452.06 L220.03,452.08 L220.28,452.10 L220.53,452.12 L220.79,452.13 L221.04,452.15 L221.30,452.17 L221.55,452.19 L221.81,452.21 L222.06,453.66 L222.31,453.67 L222.57,453.69 L222.82,453.70 L223.08,453.72 L223.33,453.73 L223.58,453.75 L223.84,453.77 L224.09,453.78 L224.35,453.80 L224.60,453.81 L224.85,453.83 L225.11,453.84 L225.36,453.86 L225.62,453.88 L225.87,453.89 L226.13,453.91 L226.38,453.92 L226.63,453.94 L226.89,453.96 L227.14,453.97 L227.40,453.99 L227.65,454.00 L227.90,454.02 L228.16,454.04 L228.41,455.41 L228.67,455.42 L228.92,455.43 L229.17,455.45 L229.43,455.46 L229.68,455.47 L229.94,455.49 L230.19,455.50 L230.45,455.51 L230.70,455.53 L230.95,455.54 L231.21,455.56 L231.46,455.57 L231.72,455.58 L231.97,455.60 L232.22,455.61 L232.48,455.63 L232.73,455.64 L232.99,455.65 L233.24,455.67 L233.50,455.68 L233.75,455.70 L234.00,455.71 L234.26,455.73 L234.51,455.74 L234.77,455.75 L235.02,457.04 L235.27,457.06 L235.53,457.07 L235.78,457.08 L236.04,457.09 L236.29,457.10 L236.54,457.11 L236.80,457.13 L237.05,457.14 L237.31,457.15 L237.56,457.16 L237.82,457.17 L238.07,457.19 L238.32,457.20 L238.58,457.21 L238.83,457.22 L239.09,457.24 L239.34,457.25 L239.59,457.26 L239.85,457.27 L240.10,457.29 L240.36,457.30 L240.61,457.31 L240.87,457.32 L241.12,457.34 L241.37,457.35 L241.63,457.36 L241.88,458.57 L242.14,458.58 L242.39,458.59 L242.64,458.60 L242.90,458.61 L243.15,458.62 L243.41,458.63 L243.66,458.64 L243.91,458.65 L244.17,458.66 L244.42,458.68 L244.68,458.69 L244.93,458.70 L245.19,458.71 L245.44,458.72 L245.69,458.73 L245.95,458.74 L246.20,458.75 L246.46,458.76 L246.71,458.77 L246.96,458.78 L247.22,458.80 L247.47,458.81 L247.73,458.82 L247.98,458.83 L248.23,458.84 L248.49,458.85 L248.74,458.86 L249.00,459.99 L249.25,460.00 L249.51,460.01 L249.76,460.02 L250.01,460.03 L250.27,460.04 L250.52,460.05 L250.78,460.06 L251.03,460.07 L251.28,460.08 L251.54,460.08 L251.79,460.09 L252.05,460.10 L252.30,460.11 L252.56,460.12 L252.81,460.13 L253.06,460.14 L253.32,460.15 L253.57,460.16 L253.83,460.17 L254.08,460.18 L254.33,460.19 L254.59,460.20 L254.84,460.21 L255.10,460.22 L255.35,460.23 L255.60,460.24 L255.86,460.25 L256.11,460.26 L256.37,461.31 L256.62,461.32 L256.88,461.33 L257.13,461.34 L257.38,461.35 L257.64,461.36 L257.89,461.36 L258.15,461.37 L258.40,461.38 L258.65,461.39 L258.91,461.40 L259.16,461.41 L259.42,461.41 L259.67,461.42 L259.93,461.43 L260.18,461.44 L260.43,461.45 L260.69,461.46 L260.94,461.47 L261.20,461.48 L261.45,461.48 L261.70,461.49 L261.96,461.50 L262.21,461.51 L262.47,461.52 L262.72,461.53 L262.97,461.54 L263.23,461.55 L263.48,461.56 L263.74,461.57 L263.99,462.55 L264.25,462.55 L264.50,462.56 L264.75,462.57 L265.01,462.58 L265.26,462.58 L265.52,462.59 L265.77,462.60 L266.02,462.61 L266.28,462.61 L266.53,462.62 L266.79,462.63 L267.04,462.64 L267.29,462.65 L267.55,462.65 L267.80,462.66 L268.06,462.67 L268.31,462.68 L268.57,462.69 L268.82,462.70 L269.07,462.70 L269.33,462.71 L269.58,462.72 L269.84,462.73 L270.09,462.74 L270.34,462.75 L270.60,462.76 L270.85,462.77 L271.11,462.78 L271.36,462.79 L271.62,462.79 L271.87,463.70 L272.12,463.71 L272.38,463.71 L272.63,463.72 L272.89,463.73 L273.14,463.74 L273.39,463.74 L273.65,463.75 L273.90,463.76 L274.16,463.77 L274.41,463.77 L274.66,463.78 L274.92,463.79 L275.17,463.80 L275.43,463.81 L275.68,463.81 L275.94,463.82 L276.19,463.83 L276.44,463.84 L276.70,463.85 L276.95,463.86 L277.21,463.86 L277.46,463.87 L277.71,463.88 L277.97,463.89 L278.22,463.90 L278.48,463.91 L278.73,463.92 L278.99,463.93 L279.24,463.93 L279.49,463.94 L279.75,463.95 L280.00,464.79 L280.26,464.80 L280.51,464.80 L280.76,464.81 L281.02,464.82 L281.27,464.83 L281.53,464.83 L281.78,464.84 L282.03,464.85 L282.29,464.86 L282.54,464.86 L282.80,464.87 L283.05,464.88 L283.31,464.89 L283.56,464.90 L283.81,464.90 L284.07,464.91 L284.32,464.92 L284.58,464.93 L284.83,464.94 L285.08,464.95 L285.34,464.95 L285.59,464.96 L285.85,464.97 L286.10,464.98 L286.36,464.99 L286.61,465.00 L286.86,465.00 L287.12,465.01 L287.37,465.02 L287.63,465.03 L287.88,465.04 L288.13,465.05 L288.39,465.06 L288.64,465.83 L288.90,465.83 L289.15,465.84 L289.40,465.85 L289.66,465.86 L289.91,465.86 L290.17,465.87 L290.42,465.88 L290.68,465.89 L290.93,465.89 L291.18,465.90 L291.44,465.91 L291.69,465.92 L291.95,465.92 L292.20,465.93 L292.45,465.94 L292.71,465.95 L292.96,465.95 L293.22,465.96 L293.47,465.97 L293.72,465.98 L293.98,465.99 L294.23,465.99 L294.49,466.00 L294.74,466.01 L295.00,466.02 L295.25,466.03 L295.50,466.03 L295.76,466.04 L296.01,466.05 L296.27,466.06 L296.52,466.07 L296.77,466.08 L297.03,466.08 L297.28,466.09 L297.54,466.80 L297.79,466.81 L298.05,466.81 L298.30,466.82 L298.55,466.83 L298.81,466.83 L299.06,466.84 L299.32,466.85 L299.57,466.85 L299.82,466.86 L300.08,466.87 L300.33,466.88 L300.59,466.88 L300.84,466.89 L301.09,466.90 L301.35,466.90 L301.60,466.91 L301.86,466.92 L302.11,466.93 L302.37,466.93 L302.62,466.94 L302.87,466.95 L303.13,466.96 L303.38,466.96 L303.64,466.97 L303.89,466.98 L304.14,466.98 L304.40,466.99 L304.65,467.00 L304.91,467.01 L305.16,467.02 L305.42,467.02 L305.67,467.03 L305.92,467.04 L306.18,467.05 L306.43,467.05 L306.69,467.70 L306.94,467.71 L307.19,467.71 L307.45,467.72 L307.70,467.73 L307.96,467.73 L308.21,467.74 L308.46,467.74 L308.72,467.75 L308.97,467.76 L309.23,467.76 L309.48,467.77 L309.74,467.78 L309.99,467.78 L310.24,467.79 L310.50,467.80 L310.75,467.80 L311.01,467.81 L311.26,467.81 L311.51,467.82 L311.77,467.83 L312.02,467.83 L312.28,467.84 L312.53,467.85 L312.78,467.85 L313.04,467.86 L313.29,467.87 L313.55,467.87 L313.80,467.88 L314.06,467.89 L314.31,467.89 L314.56,467.90 L314.82,467.91 L315.07,467.91 L315.33,467.92 L315.58,467.93 L315.83,467.93 L316.09,467.94 L316.34,468.53 L316.60,468.54 L316.85,468.54 L317.11,468.55 L317.36,468.55 L317.61,468.56 L317.87,468.56 L318.12,468.57 L318.38,468.57 L318.63,468.58 L318.88,468.58 L319.14,468.59 L319.39,468.60 L319.65,468.60 L319.90,468.61 L320.15,468.61 L320.41,468.62 L320.66,468.62 L320.92,468.63 L321.17,468.63 L321.43,468.64 L321.68,468.65 L321.93,468.65 L322.19,468.66 L322.44,468.66 L322.70,468.67 L322.95,468.67 L323.20,468.68 L323.46,468.68 L323.71,468.69 L323.97,468.70 L324.22,468.70 L324.48,468.71 L324.73,468.71 L324.98,468.72 L325.24,468.72 L325.49,468.73 L325.75,468.73 L326.00,468.74 L326.25,469.28 L326.51,469.28 L326.76,469.29 L327.02,469.29 L327.27,469.30 L327.52,469.30 L327.78,469.31 L328.03,469.31 L328.29,469.31 L328.54,469.32 L328.80,469.32 L329.05,469.33 L329.30,469.33 L329.56,469.34 L329.81,469.34 L330.07,469.35 L330.32,469.35 L330.57,469.35 L330.83,469.36 L331.08,469.36 L331.34,469.37 L331.59,469.37 L331.84,469.38 L332.10,469.38 L332.35,469.39 L332.61,469.39 L332.86,469.39 L333.12,469.40 L333.37,469.40 L333.62,469.41 L333.88,469.41 L334.13,469.42 L334.39,469.42 L334.64,469.43 L334.89,469.43 L335.15,469.43 L335.40,469.44 L335.66,469.44 L335.91,469.45 L336.17,469.45 L336.42,469.94 L336.67,469.94 L336.93,469.95 L337.18,469.95 L337.44,469.95 L337.69,469.96 L337.94,469.96 L338.20,469.96 L338.45,469.97 L338.71,469.97 L338.96,469.97 L339.21,469.98 L339.47,469.98 L339.72,469.98 L339.98,469.99 L340.23,469.99 L340.49,469.99 L340.74,470.00 L340.99,470.00 L341.25,470.00 L341.50,470.01 L341.76,470.01 L342.01,470.01 L342.26,470.02 L342.52,470.02 L342.77,470.02 L343.03,470.03 L343.28,470.03 L343.54,470.03 L343.79,470.04 L344.04,470.04 L344.30,470.04 L344.55,470.05 L344.81,470.05 L345.06,470.05 L345.31,470.05 L345.57,470.06 L345.82,470.06 L346.08,470.06 L346.33,470.07 L346.58,470.07 L346.84,470.07 L347.09,470.52 L347.35,470.52 L347.60,470.52 L347.86,470.52 L348.11,470.53 L348.36,470.53 L348.62,470.53 L348.87,470.53 L349.13,470.53 L349.38,470.54 L349.63,470.54 L349.89,470.54 L350.14,470.54 L350.40,470.54 L350.65,470.55 L350.91,470.55 L351.16,470.55 L351.41,470.55 L351.67,470.55 L351.92,470.56 L352.18,470.56 L352.43,470.56 L352.68,470.56 L352.94,470.56 L353.19,470.57 L353.45,470.57 L353.70,470.57 L353.95,470.57 L354.21,470.57 L354.46,470.58 L354.72,470.58 L354.97,470.58 L355.23,470.58 L355.48,470.58 L355.73,470.59 L355.99,470.59 L356.24,470.59 L356.50,470.59 L356.75,470.59 L357.00,470.60 L357.26,470.60 L357.51,470.60 L357.77,471.00 L358.02,471.00 L358.27,471.00 L358.53,471.00 L358.78,471.00 L359.04,471.01 L359.29,471.01 L359.55,471.01 L359.80,471.01 L360.05,471.01 L360.31,471.01 L360.56,471.01 L360.82,471.01 L361.07,471.01 L361.32,471.01 L361.58,471.01 L361.83,471.02 L362.09,471.02 L362.34,471.02 L362.60,471.02 L362.85,471.02 L363.10,471.02 L363.36,471.02 L363.61,471.02 L363.87,471.02 L364.12,471.02 L364.37,471.02 L364.63,471.03 L364.88,471.03 L365.14,471.03 L365.39,471.03 L365.64,471.03 L365.90,471.03 L366.15,471.03 L366.41,471.03 L366.66,471.03 L366.92,471.03 L367.17,471.03 L367.42,471.03 L367.68,471.03 L367.93,471.03 L368.19,471.04 L368.44,471.04 L368.69,471.04 L368.95,471.40 L369.20,471.40 L369.46,471.40 L369.71,471.40 L369.97,471.40 L370.22,471.40 L370.47,471.40 L370.73,471.40 L370.98,471.40 L371.24,471.40 L371.49,471.40 L371.74,471.40 L372.00,471.40 L372.25,471.40 L372.51,471.40 L372.76,471.40 L373.01,471.40 L373.27,471.39 L373.52,471.39 L373.78,471.39 L374.03,471.39 L374.29,471.39 L374.54,471.39 L374.79,471.39 L375.05,471.39 L375.30,471.39 L375.56,471.39 L375.81,471.39 L376.06,471.39 L376.32,471.39 L376.57,471.39 L376.83,471.39 L377.08,471.39 L377.33,471.39 L377.59,471.39 L377.84,471.39 L378.10,471.39 L378.35,471.39 L378.61,471.39 L378.86,471.39 L379.11,471.39 L379.37,471.39 L379.62,471.39 L379.88,471.39 L380.13,471.39 L380.38,471.71 L380.64,471.71 L380.89,471.71 L381.15,471.71 L381.40,471.71 L381.66,471.70 L381.91,471.70 L382.16,471.70 L382.42,471.70 L382.67,471.70 L382.93,471.70 L383.18,471.70 L383.43,471.70 L383.69,471.69 L383.94,471.69 L384.20,471.69 L384.45,471.69 L384.70,471.69 L384.96,471.69 L385.21,471.69 L385.47,471.69 L385.72,471.68 L385.98,471.68 L386.23,471.68 L386.48,471.68 L386.74,471.68 L386.99,471.68 L387.25,471.68 L387.50,471.67 L387.75,471.67 L388.01,471.67 L388.26,471.67 L388.52,471.67 L388.77,471.67 L389.03,471.67 L389.28,471.66 L389.53,471.66 L389.79,471.66 L390.04,471.66 L390.30,471.66 L390.55,471.66 L390.80,471.66 L391.06,471.65 L391.31,471.65 L391.57,471.65 L391.82,471.65 L392.07,471.65 L392.33,471.94 L392.58,471.94 L392.84,471.94 L393.09,471.93 L393.35,471.93 L393.60,471.93 L393.85,471.93 L394.11,471.93 L394.36,471.92 L394.62,471.92 L394.87,471.92 L395.12,471.92 L395.38,471.91 L395.63,471.91 L395.89,471.91 L396.14,471.91 L396.39,471.90 L396.65,471.90 L396.90,471.90 L397.16,471.90 L397.41,471.90 L397.67,471.89 L397.92,471.89 L398.17,471.89 L398.43,471.89 L398.68,471.88 L398.94,471.88 L399.19,471.88 L399.44,471.88 L399.70,471.87 L399.95,471.87 L400.21,471.87 L400.46,471.87 L400.72,471.87 L400.97,471.86 L401.22,471.86 L401.48,471.86 L401.73,471.86 L401.99,471.85 L402.24,471.85 L402.49,471.85 L402.75,471.85 L403.00,471.84 L403.26,471.84 L403.51,471.84 L403.76,471.84 L404.02,471.83 L404.27,471.83 L404.53,472.09 L404.78,472.09 L405.04,472.09 L405.29,472.08 L405.54,472.08 L405.80,472.08 L406.05,472.08 L406.31,472.07 L406.56,472.07 L406.81,472.07 L407.07,472.06 L407.32,472.06 L407.58,472.06 L407.83,472.05 L408.09,472.05 L408.34,472.05 L408.59,472.04 L408.85,472.04 L409.10,472.04 L409.36,472.04 L409.61,472.03 L409.86,472.03 L410.12,472.03 L410.37,472.02 L410.63,472.02 L410.88,472.02 L411.13,472.01 L411.39,472.01 L411.64,472.01 L411.90,472.00 L412.15,472.00 L412.41,472.00 L412.66,472.00 L412.91,471.99 L413.17,471.99 L413.42,471.99 L413.68,471.98 L413.93,471.98 L414.18,471.98 L414.44,471.97 L414.69,471.97 L414.95,471.97 L415.20,471.96 L415.45,471.96 L415.71,471.96 L415.96,471.95 L416.22,471.95 L416.47,471.95 L416.73,471.94 L416.98,472.18 L417.23,472.18 L417.49,472.17 L417.74,472.17 L418.00,472.16 L418.25,472.16 L418.50,472.16 L418.76,472.15 L419.01,472.15 L419.27,472.15 L419.52,472.14 L419.78,472.14 L420.03,472.13 L420.28,472.13 L420.54,472.13 L420.79,472.12 L421.05,472.12 L421.30,472.12 L421.55,472.11 L421.81,472.11 L422.06,472.10 L422.32,472.10 L422.57,472.10 L422.82,472.09 L423.08,472.09 L423.33,472.09 L423.59,472.08 L423.84,472.08 L424.10,472.07 L424.35,472.07 L424.60,472.07 L424.86,472.06 L425.11,472.06 L425.37,472.06 L425.62,472.05 L425.87,472.05 L426.13,472.04 L426.38,472.04 L426.64,472.04 L426.89,472.03 L427.15,472.03 L427.40,472.03 L427.65,472.02 L427.91,472.02 L428.16,472.01 L428.42,472.01 L428.67,472.01 L428.92,472.00 L429.18,472.00 L429.43,472.00 L429.69,471.99 L429.94,472.20 L430.19,472.20 L430.45,472.19 L430.70,472.19 L430.96,472.18 L431.21,472.18 L431.47,472.18 L431.72,472.17 L431.97,472.17 L432.23,472.16 L432.48,472.16 L432.74,472.16 L432.99,472.15 L433.24,472.15 L433.50,472.14 L433.75,472.14 L434.01,472.13 L434.26,472.13 L434.52,472.13 L434.77,472.12 L435.02,472.12 L435.28,472.11 L435.53,472.11 L435.79,472.11 L436.04,472.10 L436.29,472.10 L436.55,472.09 L436.80,472.09 L437.06,472.08 L437.31,472.08 L437.56,472.08 L437.82,472.07 L438.07,472.07 L438.33,472.06 L438.58,472.06 L438.84,472.06 L439.09,472.05 L439.34,472.05 L439.60,472.04 L439.85,472.04 L440.11,472.03 L440.36,472.03 L440.61,472.03 L440.87,472.02 L441.12,472.02 L441.38,472.01 L441.63,472.01 L441.88,472.01 L442.14,472.00 L442.39,472.00 L442.65,471.99 L442.90,471.99 L443.16,471.99 L443.41,472.17 L443.66,472.17 L443.92,472.16 L444.17,472.16 L444.43,472.16 L444.68,472.15 L444.93,472.15 L445.19,472.14 L445.44,472.14 L445.70,472.13 L445.95,472.13 L446.21,472.12 L446.46,472.12 L446.71,472.12 L446.97,472.11 L447.22,472.11 L447.48,472.10 L447.73,472.10 L447.98,472.09 L448.24,472.09 L448.49,472.08 L448.75,472.08 L449.00,472.08 L449.25,472.07 L449.51,472.07 L449.76,472.06 L450.02,472.06 L450.27,472.05 L450.53,472.05 L450.78,472.05 L451.03,472.04 L451.29,472.04 L451.54,472.03 L451.80,472.03 L452.05,472.02 L452.30,472.02 L452.56,472.02 L452.81,472.01 L453.07,472.01 L453.32,472.00 L453.58,472.00 L453.83,471.99 L454.08,471.99 L454.34,471.99 L454.59,471.98 L454.85,471.98 L455.10,471.97 L455.35,471.97 L455.61,471.96 L455.86,471.96 L456.12,471.96 L456.37,471.95 L456.62,471.95 L456.88,471.94 L457.13,472.11 L457.39,472.11 L457.64,472.10 L457.90,472.10 L458.15,472.09 L458.40,472.09 L458.66,472.08 L458.91,472.08 L459.17,472.08 L459.42,472.07 L459.67,472.07 L459.93,472.06 L460.18,472.06 L460.44,472.05 L460.69,472.05 L460.94,472.04 L461.20,472.04 L461.45,472.04 L461.71,472.03 L461.96,472.03 L462.22,472.02 L462.47,472.02 L462.72,472.01 L462.98,472.01 L463.23,472.01 L463.49,472.00 L463.74,472.00 L463.99,471.99 L464.25,471.99 L464.50,471.98 L464.76,471.98 L465.01,471.98 L465.27,471.97 L465.52,471.97 L465.77,471.96 L466.03,471.96 L466.28,471.96 L466.54,471.95 L466.79,471.95 L467.04,471.94 L467.30,471.94 L467.55,471.94 L467.81,471.93 L468.06,471.93 L468.31,471.92 L468.57,471.92 L468.82,471.91 L469.08,471.91 L469.33,471.91 L469.59,471.90 L469.84,471.90 L470.09,471.90 L470.35,471.89 L470.60,471.89 L470.86,471.88 L471.11,471.88 L471.36,472.03 L471.62,472.03 L471.87,472.02 L472.13,472.02 L472.38,472.01 L472.64,472.01 L472.89,472.00 L473.14,472.00 L473.40,472.00 L473.65,471.99 L473.91,471.99 L474.16,471.98 L474.41,471.98 L474.67,471.98 L474.92,471.97 L475.18,471.97 L475.43,471.96 L475.68,471.96 L475.94,471.96 L476.19,471.95 L476.45,471.95 L476.70,471.94 L476.96,471.94 L477.21,471.94 L477.46,471.93 L477.72,471.93 L477.97,471.93 L478.23,471.92 L478.48,471.92 L478.73,471.91 L478.99,471.91 L479.24,471.91 L479.50,471.90 L479.75,471.90 L480.00,471.90 L480.26,471.89 L480.51,471.89 L480.77,471.88 L481.02,471.88 L481.28,471.88 L481.53,471.87 L481.78,471.87 L482.04,471.87 L482.29,471.86 L482.55,471.86 L482.80,471.86 L483.05,471.85 L483.31,471.85 L483.56,471.85 L483.82,471.84 L484.07,471.84 L484.33,471.84 L484.58,471.83 L484.83,471.83 L485.09,471.83 L485.34,471.82 L485.60,471.82 L485.85,471.82 L486.10,471.95 L486.36,471.95 L486.61,471.94 L486.87,471.94 L487.12,471.94 L487.37,471.93 L487.63,471.93 L487.88,471.93 L488.14,471.92 L488.39,471.92 L488.65,471.92 L488.90,471.91 L489.15,471.91 L489.41,471.91 L489.66,471.90 L489.92,471.90 L490.17,471.90 L490.42,471.89 L490.68,471.89 L490.93,471.89 L491.19,471.88 L491.44,471.88 L491.70,471.88 L491.95,471.87 L492.20,471.87 L492.46,471.87 L492.71,471.86 L492.97,471.86 L493.22,471.86 L493.47,471.86 L493.73,471.85 L493.98,471.85 L494.24,471.85 L494.49,471.84 L494.74,471.84 L495.00,471.84 L495.25,471.84 L495.51,471.83 L495.76,471.83 L496.02,471.83 L496.27,471.82 L496.52,471.82 L496.78,471.82 L497.03,471.82 L497.29,471.81 L497.54,471.81 L497.79,471.81 L498.05,471.81 L498.30,471.80 L498.56,471.80 L498.81,471.80 L499.06,471.80 L499.32,471.79 L499.57,471.79 L499.83,471.79 L500.08,471.79 L500.34,471.78 L500.59,471.78 L500.84,471.78 L501.10,471.90 L501.35,471.90 L501.61,471.90 L501.86,471.89 L502.11,471.89 L502.37,471.89 L502.62,471.89 L502.88,471.88 L503.13,471.88 L503.39,471.88 L503.64,471.88 L503.89,471.88 L504.15,471.87 L504.40,471.87 L504.66,471.87 L504.91,471.87 L505.16,471.87 L505.42,471.86 L505.67,471.86 L505.93,471.86 L506.18,471.86 L506.43,471.86 L506.69,471.85 L506.94,471.85 L507.20,471.85 L507.45,471.85 L507.71,471.85 L507.96,471.84 L508.21,471.84 L508.47,471.84 L508.72,471.84 L508.98,471.84 L509.23,471.84 L509.48,471.83 L509.74,471.83 L509.99,471.83 L510.25,471.83 L510.50,471.83 L510.76,471.82 L511.01,471.82 L511.26,471.82 L511.52,471.82 L511.77,471.82 L512.03,471.82 L512.28,471.82 L512.53,471.82 L512.79,471.81 L513.04,471.81 L513.30,471.81 L513.55,471.81 L513.80,471.81 L514.06,471.81 L514.31,471.81 L514.57,471.81 L514.82,471.81 L515.08,471.80 L515.33,471.80 L515.58,471.80 L515.84,471.80 L516.09,471.80 L516.35,471.80 L516.60,471.91 L516.85,471.91 L517.11,471.91 L517.36,471.91 L517.62,471.91 L517.87,471.90 L518.13,471.90 L518.38,471.90 L518.63,471.90 L518.89,471.90 L519.14,471.90 L519.40,471.90 L519.65,471.90 L519.90,471.90 L520.16,471.90 L520.41,471.90 L520.67,471.90 L520.92,471.90 L521.17,471.90 L521.43,471.90 L521.68,471.90 L521.94,471.90 L522.19,471.89 L522.45,471.89 L522.70,471.89 L522.95,471.89 L523.21,471.89 L523.46,471.89 L523.72,471.89 L523.97,471.89 L524.22,471.89 L524.48,471.89 L524.73,471.89 L524.99,471.89 L525.24,471.89 L525.49,471.89 L525.75,471.89 L526.00,471.89 L526.26,471.89 L526.51,471.89 L526.77,471.89 L527.02,471.90 L527.27,471.90 L527.53,471.90 L527.78,471.90 L528.04,471.90 L528.29,471.90 L528.54,471.90 L528.80,471.90 L529.05,471.90 L529.31,471.90 L529.56,471.90 L529.82,471.90 L530.07,471.90 L530.32,471.90 L530.58,471.90 L530.83,471.90 L531.09,471.91 L531.34,471.91 L531.59,471.91 L531.85,471.91 L532.10,471.91 L532.36,471.91 L532.61,472.01 L532.86,472.01 L533.12,472.01 L533.37,472.01 L533.63,472.01 L533.88,472.02 L534.14,472.02 L534.39,472.02 L534.64,472.02 L534.90,472.02 L535.15,472.02 L535.41,472.02 L535.66,472.02 L535.91,472.03 L536.17,472.03 L536.42,472.03 L536.68,472.03 L536.93,472.03 L537.19,472.03 L537.44,472.04 L537.69,472.04 L537.95,472.04 L538.20,472.04 L538.46,472.04 L538.71,472.04 L538.96,472.05 L539.22,472.05 L539.47,472.05 L539.73,472.05 L539.98,472.05 L540.23,472.06 L540.49,472.06 L540.74,472.06 L541.00,472.06 L541.25,472.07 L541.51,472.07 L541.76,472.07 L542.01,472.07 L542.27,472.07 L542.52,472.08 L542.78,472.08 L543.03,472.08 L543.28,472.09 L543.54,472.09 L543.79,472.09 L544.05,472.09 L544.30,472.10 L544.55,472.10 L544.81,472.10 L545.06,472.10 L545.32,472.11 L545.57,472.11 L545.83,472.11 L546.08,472.12 L546.33,472.12 L546.59,472.12 L546.84,472.13 L547.10,472.13 L547.35,472.13 L547.60,472.14 L547.86,472.14 L548.11,472.14 L548.37,472.15 L548.62,472.15 L548.88,472.15 L549.13,472.24 L549.38,472.25 L549.64,472.25 L549.89,472.25 L550.15,472.26 L550.40,472.26" stroke="#000" stroke-width="2" fill="none" stroke-linejoin="round"/>
<path d="M159.20,405.70 L160.18,418.88 L161.16,424.05 L162.14,426.93 L163.12,428.92 L164.10,430.50 L165.08,431.93 L166.06,433.19 L167.04,434.33 L168.02,435.39 L168.99,436.40 L169.97,437.37 L170.95,438.30 L171.93,439.18 L172.91,439.99 L173.89,440.75 L174.87,441.44 L175.85,442.08 L176.83,442.65 L177.81,443.15 L178.79,443.62 L179.77,444.05 L180.75,444.46 L181.73,444.85 L182.71,445.22 L183.69,445.59 L184.67,445.95 L185.65,446.32 L186.62,446.69 L187.60,447.06 L188.58,447.42 L189.56,447.78 L190.54,448.14 L191.52,448.50 L192.50,448.85 L193.48,449.20 L194.46,449.54 L195.44,449.88 L196.42,450.21 L197.40,450.54 L198.38,450.86 L199.36,451.18 L200.34,451.50 L201.32,451.81 L202.30,452.13 L203.28,452.44 L204.25,452.74 L205.23,453.04 L206.21,453.34 L207.19,453.62 L208.17,453.91 L209.15,454.18 L210.13,454.45 L211.11,454.70 L212.09,454.95 L213.07,455.20 L214.05,455.44 L215.03,455.67 L216.01,455.90 L216.99,456.13 L217.97,456.35 L218.95,456.56 L219.93,456.77 L220.91,456.98 L221.88,457.18 L222.86,457.38 L223.84,457.57 L224.82,457.75 L225.80,457.93 L226.78,458.11 L227.76,458.28 L228.74,458.44 L229.72,458.61 L230.70,458.77 L231.68,458.93 L232.66,459.09 L233.64,459.24 L234.62,459.40 L235.60,459.56 L236.58,459.72 L237.56,459.88 L238.54,460.05 L239.51,460.22 L240.49,460.39 L241.47,460.57 L242.45,460.75 L243.43,460.93 L244.41,461.12 L245.39,461.30 L246.37,461.48 L247.35,461.66 L248.33,461.83 L249.31,461.99 L250.29,462.14 L251.27,462.29 L252.25,462.44 L253.23,462.58 L254.21,462.73 L255.19,462.87 L256.17,463.02 L257.14,463.16 L258.12,463.29 L259.10,463.43 L260.08,463.57 L261.06,463.70 L262.04,463.83 L263.02,463.96 L264.00,464.08 L264.98,464.20 L265.96,464.32 L266.94,464.44 L267.92,464.55 L268.90,464.67 L269.88,464.77 L270.86,464.88 L271.84,464.98 L272.82,465.08 L273.80,465.17 L274.77,465.26 L275.75,465.35 L276.73,465.44 L277.71,465.52 L278.69,465.60 L279.67,465.68 L280.65,465.75 L281.63,465.83 L282.61,465.90 L283.59,465.97 L284.57,466.04 L285.55,466.11 L286.53,466.17 L287.51,466.24 L288.49,466.31 L289.47,466.37 L290.45,466.44 L291.43,466.50 L292.41,466.57 L293.38,466.63 L294.36,466.70 L295.34,466.76 L296.32,466.83 L297.30,466.90 L298.28,466.96 L299.26,467.03 L300.24,467.10 L301.22,467.17 L302.20,467.24 L303.18,467.31 L304.16,467.38 L305.14,467.45 L306.12,467.52 L307.10,467.59 L308.08,467.66 L309.06,467.72 L310.04,467.79 L311.01,467.86 L311.99,467.93 L312.97,468.00 L313.95,468.06 L314.93,468.13 L315.91,468.20 L316.89,468.26 L317.87,468.33 L318.85,468.40 L319.83,468.46 L320.81,468.53 L321.79,468.59 L322.77,468.65 L323.75,468.72 L324.73,468.78 L325.71,468.84 L326.69,468.90 L327.67,468.96 L328.64,469.02 L329.62,469.07 L330.60,469.13 L331.58,469.19 L332.56,469.25 L333.54,469.31 L334.52,469.36 L335.50,469.42 L336.48,469.48 L337.46,469.54 L338.44,469.60 L339.42,469.66 L340.40,469.73 L341.38,469.79 L342.36,469.86 L343.34,469.93 L344.32,470.00 L345.30,470.07 L346.27,470.14 L347.25,470.22 L348.23,470.29 L349.21,470.36 L350.19,470.42 L351.17,470.49 L352.15,470.55 L353.13,470.61 L354.11,470.67 L355.09,470.72 L356.07,470.77 L357.05,470.82 L358.03,470.87 L359.01,470.92 L359.99,470.96 L360.97,471.01 L361.95,471.05 L362.93,471.10 L363.90,471.14 L364.88,471.19 L365.86,471.23 L366.84,471.27 L367.82,471.31 L368.80,471.35 L369.78,471.39 L370.76,471.42 L371.74,471.46 L372.72,471.49 L373.70,471.53 L374.68,471.56 L375.66,471.59 L376.64,471.62 L377.62,471.65 L378.60,471.68 L379.58,471.70 L380.56,471.73 L381.53,471.76 L382.51,471.78 L383.49,471.81 L384.47,471.84 L385.45,471.86 L386.43,471.89 L387.41,471.91 L388.39,471.93 L389.37,471.96 L390.35,471.98 L391.33,472.00 L392.31,472.02 L393.29,472.05 L394.27,472.06 L395.25,472.08 L396.23,472.10 L397.21,472.12 L398.19,472.13 L399.16,472.15 L400.14,472.16 L401.12,472.17 L402.10,472.18 L403.08,472.19 L404.06,472.20 L405.04,472.21 L406.02,472.21 L407.00,472.22 L407.98,472.23 L408.96,472.23 L409.94,472.24 L410.92,472.24 L411.90,472.25 L412.88,472.25 L413.86,472.26 L414.84,472.26 L415.82,472.27 L416.79,472.27 L417.77,472.28 L418.75,472.28 L419.73,472.28 L420.71,472.29 L421.69,472.29 L422.67,472.29 L423.65,472.29 L424.63,472.30 L425.61,472.30 L426.59,472.30 L427.57,472.30 L428.55,472.30 L429.53,472.30 L430.51,472.30 L431.49,472.30 L432.47,472.30 L433.45,472.30 L434.43,472.30 L435.40,472.30 L436.38,472.29 L437.36,472.29 L438.34,472.29 L439.32,472.29 L440.30,472.29 L441.28,472.28 L442.26,472.28 L443.24,472.28 L444.22,472.28 L445.20,472.27 L446.18,472.27 L447.16,472.27 L448.14,472.27 L449.12,472.26 L450.10,472.26 L451.08,472.26 L452.06,472.25 L453.03,472.25 L454.01,472.25 L454.99,472.25 L455.97,472.24 L456.95,472.24 L457.93,472.24 L458.91,472.23 L459.89,472.23 L460.87,472.23 L461.85,472.22 L462.83,472.22 L463.81,472.22 L464.79,472.21 L465.77,472.21 L466.75,472.21 L467.73,472.21 L468.71,472.20 L469.69,472.20 L470.66,472.20 L471.64,472.20 L472.62,472.19 L473.60,472.19 L474.58,472.19 L475.56,472.19 L476.54,472.18 L477.52,472.18 L478.50,472.18 L479.48,472.18 L480.46,472.18 L481.44,472.17 L482.42,472.17 L483.40,472.17 L484.38,472.17 L485.36,472.16 L486.34,472.16 L487.32,472.16 L488.29,472.16 L489.27,472.16 L490.25,472.15 L491.23,472.15 L492.21,472.15 L493.19,472.15 L494.17,472.14 L495.15,472.14 L496.13,472.14 L497.11,472.14 L498.09,472.13 L499.07,472.13 L500.05,472.13 L501.03,472.13 L502.01,472.12 L502.99,472.12 L503.97,472.12 L504.95,472.12 L505.92,472.11 L506.90,472.11 L507.88,472.11 L508.86,472.10 L509.84,472.10 L510.82,472.10 L511.80,472.09 L512.78,472.09 L513.76,472.09 L514.74,472.08 L515.72,472.08 L516.70,472.08 L517.68,472.07 L518.66,472.07 L519.64,472.06 L520.62,472.06 L521.60,472.05 L522.58,472.05 L523.55,472.05 L524.53,472.04 L525.51,472.04 L526.49,472.03 L527.47,472.03 L528.45,472.02 L529.43,472.02 L530.41,472.01 L531.39,472.01 L532.37,472.00 L533.35,472.00 L534.33,471.99 L535.31,471.99 L536.29,471.98 L537.27,471.98 L538.25,471.97 L539.23,471.96 L540.21,471.96 L541.18,471.95 L542.16,471.95 L543.14,471.94 L544.12,471.94 L545.10,471.93 L546.08,471.92 L547.06,471.92 L548.04,471.91 L549.02,471.91 L550.00,471.90" stroke="#ff0000" stroke-width="2" stroke-dasharray="5.2 4.3" fill="none"/>
<path d="M67.80,306.10 L68.05,306.71 L68.31,307.32 L68.56,307.92 L68.82,308.53 L69.07,309.12 L69.32,309.72 L69.58,310.31 L69.83,310.90 L70.09,311.49 L70.34,312.08 L70.60,312.66 L70.85,313.23 L71.10,313.81 L71.36,314.38 L71.61,314.95 L71.87,315.51 L72.12,316.07 L72.37,316.63 L72.63,317.18 L72.88,317.73 L73.14,318.28 L73.39,318.82 L73.65,319.35 L73.90,319.88 L74.15,320.40 L74.41,320.92 L74.66,321.43 L74.92,321.94 L75.17,322.44 L75.42,322.94 L75.68,323.44 L75.93,323.94 L76.19,324.44 L76.44,324.94 L76.69,325.44 L76.95,325.94 L77.20,326.44 L77.46,326.94 L77.71,327.45 L77.97,327.96 L78.22,328.47 L78.47,328.99 L78.73,329.52 L78.98,330.05 L79.24,330.59 L79.49,331.14 L79.74,331.70 L80.00,332.26 L80.25,332.83 L80.51,333.41 L80.76,334.00 L81.01,334.59 L81.27,335.18 L81.52,335.77 L81.78,336.36 L82.03,336.95 L82.29,337.55 L82.54,338.14 L82.79,338.72 L83.05,339.30 L83.30,339.88 L83.56,340.45 L83.81,341.01 L84.06,341.56 L84.32,342.11 L84.57,342.64 L84.83,343.16 L85.08,343.67 L85.34,344.16 L85.59,344.65 L85.84,345.12 L86.10,345.59 L86.35,346.05 L86.61,346.50 L86.86,346.95 L87.11,347.39 L87.37,347.82 L87.62,348.25 L87.88,348.67 L88.13,349.09 L88.38,349.50 L88.64,349.91 L88.89,350.32 L89.15,350.73 L89.40,351.14 L89.66,351.54 L89.91,351.94 L90.16,352.34 L90.42,352.74 L90.67,353.13 L90.93,353.52 L91.18,353.91 L91.43,354.29 L91.69,354.66 L91.94,355.04 L92.20,355.40 L92.45,355.76 L92.71,356.12 L92.96,356.47 L93.21,356.81 L93.47,357.15 L93.72,357.48 L93.98,357.80 L94.23,358.11 L94.48,358.42 L94.74,358.71 L94.99,358.99 L95.25,359.26 L95.50,359.52 L95.75,359.77 L96.01,360.01 L96.26,360.25 L96.52,360.48 L96.77,360.71 L97.03,360.94 L97.28,361.17 L97.53,361.40 L97.79,361.63 L98.04,361.87 L98.30,362.12 L98.55,362.37 L98.80,362.63 L99.06,362.90 L99.31,363.18 L99.57,363.47 L99.82,363.78 L100.07,364.10 L100.33,364.44 L100.58,364.82 L100.84,365.24 L101.09,365.69 L101.35,366.17 L101.60,366.67 L101.85,367.18 L102.11,367.69 L102.36,368.20 L102.62,368.69 L102.87,369.17 L103.12,369.61 L103.38,370.02 L103.63,370.42 L103.89,370.82 L104.14,371.21 L104.40,371.60 L104.65,371.99 L104.90,372.37 L105.16,372.75 L105.41,373.12 L105.67,373.49 L105.92,373.85 L106.17,374.21 L106.43,374.56 L106.68,374.90 L106.94,375.24 L107.19,375.57 L107.44,375.89 L107.70,376.21 L107.95,376.51 L108.21,376.81 L108.46,377.10 L108.72,377.39 L108.97,377.66 L109.22,377.92 L109.48,378.18 L109.73,378.42 L109.99,378.64 L110.24,378.85 L110.49,379.05 L110.75,379.25 L111.00,379.43 L111.26,379.61 L111.51,379.79 L111.77,379.97 L112.02,380.15 L112.27,380.33 L112.53,380.52 L112.78,380.71 L113.04,380.92 L113.29,381.13 L113.54,381.36 L113.80,381.60 L114.05,381.86 L114.31,382.13 L114.56,382.43 L114.81,382.74 L115.07,383.06 L115.32,383.40 L115.58,383.74 L115.83,384.10 L116.09,384.46 L116.34,384.83 L116.59,385.20 L116.85,385.58 L117.10,385.96 L117.36,386.34 L117.61,386.72 L117.86,387.09 L118.12,387.46 L118.37,387.80 L118.63,388.12 L118.88,388.43 L119.14,388.72 L119.39,389.51 L119.64,389.86 L119.90,390.20 L120.15,390.52 L120.41,390.82 L120.66,391.10 L120.91,391.37 L121.17,391.61 L121.42,391.83 L121.68,392.04 L121.93,393.66 L122.18,393.92 L122.44,394.15 L122.69,394.36 L122.95,394.55 L123.20,394.73 L123.46,394.88 L123.71,395.00 L123.96,395.11 L124.22,395.20 L124.47,395.28 L124.73,397.80 L124.98,397.93 L125.23,398.04 L125.49,398.14 L125.74,398.22 L126.00,398.29 L126.25,398.34 L126.50,398.38 L126.76,398.40 L127.01,398.41 L127.27,398.40 L127.52,398.38 L127.78,401.93 L128.03,401.97 L128.28,401.97 L128.54,401.97 L128.79,401.97 L129.05,401.97 L129.30,401.97 L129.55,401.97 L129.81,401.97 L130.06,401.97 L130.32,401.97 L130.57,401.97 L130.83,401.97 L131.08,401.97 L131.33,405.64 L131.59,405.64 L131.84,405.64 L132.10,405.64 L132.35,405.64 L132.60,405.64 L132.86,405.64 L133.11,405.64 L133.37,405.64 L133.62,405.64 L133.87,405.64 L134.13,405.64 L134.38,405.64 L134.64,405.64 L134.89,409.31 L135.15,409.31 L135.40,409.31 L135.65,409.31 L135.91,409.31 L136.16,409.31 L136.42,409.31 L136.67,409.31 L136.92,409.31 L137.18,409.31 L137.43,409.31 L137.69,409.31 L137.94,409.31 L138.20,409.31 L138.45,409.31 L138.70,412.98 L138.96,412.98 L139.21,412.98 L139.47,412.98 L139.72,412.98 L139.97,412.98 L140.23,412.98 L140.48,412.98 L140.74,412.98 L140.99,412.98 L141.24,412.98 L141.50,412.98 L141.75,412.98 L142.01,412.98 L142.26,412.98 L142.52,416.65 L142.77,416.65 L143.02,416.65 L143.28,416.65 L143.53,416.65 L143.79,416.65 L144.04,416.65 L144.29,416.65 L144.55,416.65 L144.80,416.65 L145.06,416.65 L145.31,416.65 L145.56,416.65 L145.82,416.65 L146.07,416.65 L146.33,420.32 L146.58,420.32 L146.84,420.32 L147.09,420.32 L147.34,420.32 L147.60,420.32 L147.85,420.32 L148.11,420.32 L148.36,420.32 L148.61,420.32 L148.87,420.32 L149.12,420.32 L149.38,420.32 L149.63,420.32 L149.89,420.32 L150.14,420.32 L150.39,423.99 L150.65,423.99 L150.90,423.99 L151.16,423.99 L151.41,423.99 L151.66,423.99 L151.92,423.99 L152.17,423.99 L152.43,423.99 L152.68,423.99 L152.93,423.99 L153.19,423.99 L153.44,423.99 L153.70,423.99 L153.95,423.99 L154.21,423.99 L154.46,423.99 L154.71,427.66 L154.97,427.66 L155.22,427.66 L155.48,427.66 L155.73,427.66 L155.98,427.66 L156.24,427.66 L156.49,427.66 L156.75,427.66 L157.00,427.66 L157.26,427.66 L157.51,427.66 L157.76,427.66 L158.02,427.66 L158.27,427.66 L158.53,427.66 L158.78,427.66 L159.03,431.33 L159.29,431.33 L159.54,431.33 L159.80,431.33 L160.05,431.33 L160.30,431.33 L160.56,431.33 L160.81,431.33 L161.07,431.33 L161.32,431.33 L161.58,431.33 L161.83,431.33 L162.08,431.33 L162.34,431.33 L162.59,431.33 L162.85,431.33 L163.10,431.33 L163.35,435.00 L163.61,435.00 L163.86,435.00 L164.12,435.00 L164.37,435.00 L164.62,435.00 L164.88,435.00 L165.13,435.00 L165.39,435.00 L165.64,435.00 L165.90,435.00 L166.15,435.00 L166.40,435.00 L166.66,435.00 L166.91,435.00 L167.17,435.00 L167.42,435.00 L167.67,435.00 L167.93,438.67 L168.18,438.67 L168.44,438.67 L168.69,438.67 L168.95,438.67 L169.20,438.67 L169.45,438.67 L169.71,438.67 L169.96,438.67 L170.22,438.67 L170.47,438.67 L170.72,438.67 L170.98,438.67 L171.23,438.67 L171.49,438.67 L171.74,438.67 L171.99,438.67 L172.25,438.67 L172.50,442.34 L172.76,442.34 L173.01,442.34 L173.27,442.34 L173.52,442.34 L173.77,442.34 L174.03,442.34 L174.28,442.34 L174.54,442.34 L174.79,442.34 L175.04,442.34 L175.30,442.34 L175.55,442.34 L175.81,442.34 L176.06,442.34 L176.32,442.34 L176.57,442.34 L176.82,442.34 L177.08,442.34 L177.33,446.01 L177.59,446.01 L177.84,446.01 L178.09,446.01 L178.35,446.01 L178.60,446.01 L178.86,446.01 L179.11,446.01 L179.36,446.01 L179.62,446.01 L179.87,446.01 L180.13,446.01 L180.38,446.01 L180.64,446.01 L180.89,446.01 L181.14,446.01 L181.40,446.01 L181.65,446.01 L181.91,446.01 L182.16,446.01 L182.41,449.68 L182.67,449.68 L182.92,449.68 L183.18,449.68 L183.43,449.68 L183.68,449.68 L183.94,449.68 L184.19,449.68 L184.45,449.68 L184.70,449.68 L184.96,449.68 L185.21,449.68 L185.46,449.68 L185.72,449.68 L185.97,449.68 L186.23,449.68 L186.48,449.68 L186.73,449.68 L186.99,449.68 L187.24,449.68 L187.50,453.35 L187.75,453.35 L188.01,453.35 L188.26,453.35 L188.51,453.35 L188.77,453.35 L189.02,453.35 L189.28,453.35 L189.53,453.35 L189.78,453.35 L190.04,453.35 L190.29,453.35 L190.55,453.35 L190.80,453.35 L191.05,453.35 L191.31,453.35 L191.56,453.35 L191.82,453.35 L192.07,453.35 L192.33,453.35 L192.58,453.35 L192.83,457.02 L193.09,457.02 L193.34,457.02 L193.60,457.02 L193.85,457.02 L194.10,457.02 L194.36,457.02 L194.61,457.02 L194.87,457.02 L195.12,457.02 L195.38,457.02 L195.63,457.02 L195.88,457.02 L196.14,457.02 L196.39,457.02 L196.65,457.02 L196.90,457.02 L197.15,457.02 L197.41,457.02 L197.66,457.02 L197.92,457.02 L198.17,457.02 L198.42,460.69 L198.68,460.69 L198.93,460.69 L199.19,460.69 L199.44,460.69 L199.70,460.69 L199.95,460.69 L200.20,460.69 L200.46,460.69 L200.71,460.69 L200.97,460.69 L201.22,460.69 L201.47,460.69 L201.73,460.69 L201.98,460.69 L202.24,460.69 L202.49,460.69 L202.75,460.69 L203.00,460.69 L203.25,460.69 L203.51,460.69 L203.76,460.69 L204.02,464.36 L204.27,464.36 L204.52,464.36 L204.78,464.36 L205.03,464.36 L205.29,464.36 L205.54,464.36 L205.79,464.36 L206.05,464.36 L206.30,464.36 L206.56,464.36 L206.81,464.36 L207.07,464.36 L207.32,464.36 L207.57,464.36 L207.83,464.36 L208.08,464.36 L208.34,464.36 L208.59,464.36 L208.84,464.36 L209.10,464.36 L209.35,464.36 L209.61,464.36 L209.86,468.03 L210.11,468.03 L210.37,468.03 L210.62,468.03 L210.88,468.03 L211.13,468.03 L211.39,468.03 L211.64,468.03 L211.89,468.03 L212.15,468.03 L212.40,468.03 L212.66,468.03 L212.91,468.03 L213.16,468.03 L213.42,468.03 L213.67,468.03 L213.93,468.03 L214.18,468.03 L214.44,468.03 L214.69,468.03 L214.94,468.03 L215.20,468.03 L215.45,468.03 L215.71,471.70 L215.96,471.70 L216.21,471.70 L216.47,471.70 L216.72,471.70 L216.98,471.70 L217.23,471.70 L217.48,471.70 L217.74,471.70 L217.99,471.70 L218.25,471.70 L218.50,471.70 L218.76,471.70 L219.01,471.70 L219.26,471.70 L219.52,471.70 L219.77,471.70 L220.03,471.70 L220.28,471.70 L220.53,471.70 L220.79,471.70 L221.04,471.70 L221.30,471.70 L221.55,471.70 L221.81,471.70 L222.06,475.37 L222.31,475.37 L222.57,475.37 L222.82,475.37 L223.08,475.37 L223.33,475.37 L223.58,475.37 L223.84,475.37 L224.09,475.37 L224.35,475.37 L224.60,475.37 L224.85,475.37 L225.11,475.37 L225.36,475.37 L225.62,475.37 L225.87,475.37 L226.13,475.37 L226.38,475.37 L226.63,475.37 L226.89,475.37 L227.14,475.37 L227.40,475.37 L227.65,475.37 L227.90,475.37 L228.16,475.37 L228.41,479.04 L228.67,479.04 L228.92,479.04 L229.17,479.04 L229.43,479.04 L229.68,479.04 L229.94,479.04 L230.19,479.04 L230.45,479.04 L230.70,479.04 L230.95,479.04 L231.21,479.04 L231.46,479.04 L231.72,479.04 L231.97,479.04 L232.22,479.04 L232.48,479.04 L232.73,479.04 L232.99,479.04 L233.24,479.04 L233.50,479.04 L233.75,479.04 L234.00,479.04 L234.26,479.04 L234.51,479.04 L234.77,479.04 L235.02,482.71 L235.27,482.71 L235.53,482.71 L235.78,482.71 L236.04,482.71 L236.29,482.71 L236.54,482.71 L236.80,482.71 L237.05,482.71 L237.31,482.71 L237.56,482.71 L237.82,482.71 L238.07,482.71 L238.32,482.71 L238.58,482.71 L238.83,482.71 L239.09,482.71 L239.34,482.71 L239.59,482.71 L239.85,482.71 L240.10,482.71 L240.36,482.71 L240.61,482.71 L240.87,482.71 L241.12,482.71 L241.37,482.71 L241.63,482.71 L241.88,486.38 L242.14,486.38 L242.39,486.38 L242.64,486.38 L242.90,486.38 L243.15,486.38 L243.41,486.38 L243.66,486.38 L243.91,486.38 L244.17,486.38 L244.42,486.38 L244.68,486.38 L244.93,486.38 L245.19,486.38 L245.44,486.38 L245.69,486.38 L245.95,486.38 L246.20,486.38 L246.46,486.38 L246.71,486.38 L246.96,486.38 L247.22,486.38 L247.47,486.38 L247.73,486.38 L247.98,486.38 L248.23,486.38 L248.49,486.38 L248.74,486.38 L249.00,490.05 L249.25,490.05 L249.51,490.05 L249.76,490.05 L250.01,490.05 L250.27,490.05 L250.52,490.05 L250.78,490.05 L251.03,490.05 L251.28,490.05 L251.54,490.05 L251.79,490.05 L252.05,490.05 L252.30,490.05 L252.56,490.05 L252.81,490.05 L253.06,490.05 L253.32,490.05 L253.57,490.05 L253.83,490.05 L254.08,490.05 L254.33,490.05 L254.59,490.05 L254.84,490.05 L255.10,490.05 L255.35,490.05 L255.60,490.05 L255.86,490.05 L256.11,490.05 L256.37,493.72 L256.62,493.72 L256.88,493.72 L257.13,493.72 L257.38,493.72 L257.64,493.72 L257.89,493.72 L258.15,493.72 L258.40,493.72 L258.65,493.72 L258.91,493.72 L259.16,493.72 L259.42,493.72 L259.67,493.72 L259.93,493.72 L260.18,493.72 L260.43,493.72 L260.69,493.72 L260.94,493.72 L261.20,493.72 L261.45,493.72 L261.70,493.72 L261.96,493.72 L262.21,493.72 L262.47,493.72 L262.72,493.72 L262.97,493.72 L263.23,493.72 L263.48,493.72 L263.74,493.72 L263.99,497.39 L264.25,497.39 L264.50,497.39 L264.75,497.39 L265.01,497.39 L265.26,497.39 L265.52,497.39 L265.77,497.39 L266.02,497.39 L266.28,497.39 L266.53,497.39 L266.79,497.39 L267.04,497.39 L267.29,497.39 L267.55,497.39 L267.80,497.39 L268.06,497.39 L268.31,497.39 L268.57,497.39 L268.82,497.39 L269.07,497.39 L269.33,497.39 L269.58,497.39 L269.84,497.39 L270.09,497.39 L270.34,497.39 L270.60,497.39 L270.85,497.39 L271.11,497.39 L271.36,497.39 L271.62,497.39 L271.87,501.06 L272.12,501.06 L272.38,501.06 L272.63,501.06 L272.89,501.06 L273.14,501.06 L273.39,501.06 L273.65,501.06 L273.90,501.06 L274.16,501.06 L274.41,501.06 L274.66,501.06 L274.92,501.06 L275.17,501.06 L275.43,501.06 L275.68,501.06 L275.94,501.06 L276.19,501.06 L276.44,501.06 L276.70,501.06 L276.95,501.06 L277.21,501.06 L277.46,501.06 L277.71,501.06 L277.97,501.06 L278.22,501.06 L278.48,501.06 L278.73,501.06 L278.99,501.06 L279.24,501.06 L279.49,501.06 L279.75,501.06 L280.00,504.73 L280.26,504.73 L280.51,504.73 L280.76,504.73 L281.02,504.73 L281.27,504.73 L281.53,504.73 L281.78,504.73 L282.03,504.73 L282.29,504.73 L282.54,504.73 L282.80,504.73 L283.05,504.73 L283.31,504.73 L283.56,504.73 L283.81,504.73 L284.07,504.73 L284.32,504.73 L284.58,504.73 L284.83,504.73 L285.08,504.73 L285.34,504.73 L285.59,504.73 L285.85,504.73 L286.10,504.73 L286.36,504.73 L286.61,504.73 L286.86,504.73 L287.12,504.73 L287.37,504.73 L287.63,504.73 L287.88,504.73 L288.13,504.73 L288.39,504.73 L288.64,508.40 L288.90,508.40 L289.15,508.40 L289.40,508.40 L289.66,508.40 L289.91,508.40 L290.17,508.40 L290.42,508.40 L290.68,508.40 L290.93,508.40 L291.18,508.40 L291.44,508.40 L291.69,508.40 L291.95,508.40 L292.20,508.40 L292.45,508.40 L292.71,508.40 L292.96,508.40 L293.22,508.40 L293.47,508.40 L293.72,508.40 L293.98,508.40 L294.23,508.40 L294.49,508.40 L294.74,508.40 L295.00,508.40 L295.25,508.40 L295.50,508.40 L295.76,508.40 L296.01,508.40 L296.27,508.40 L296.52,508.40 L296.77,508.40 L297.03,508.40 L297.28,508.40 L297.54,512.07 L297.79,512.07 L298.05,512.07 L298.30,512.07 L298.55,512.07 L298.81,512.07 L299.06,512.07 L299.32,512.07 L299.57,512.07 L299.82,512.07 L300.08,512.07 L300.33,512.07 L300.59,512.07 L300.84,512.07 L301.09,512.07 L301.35,512.07 L301.60,512.07 L301.86,512.07 L302.11,512.07 L302.37,512.07 L302.62,512.07 L302.87,512.07 L303.13,512.07 L303.38,512.07 L303.64,512.07 L303.89,512.07 L304.14,512.07 L304.40,512.07 L304.65,512.07 L304.91,512.07 L305.16,512.07 L305.42,512.07 L305.67,512.07 L305.92,512.07 L306.18,512.07 L306.43,512.07 L306.69,515.74 L306.94,515.74 L307.19,515.74 L307.45,515.74 L307.70,515.74 L307.96,515.74 L308.21,515.74 L308.46,515.74 L308.72,515.74 L308.97,515.74 L309.23,515.74 L309.48,515.74 L309.74,515.74 L309.99,515.74 L310.24,515.74 L310.50,515.74 L310.75,515.74 L311.01,515.74 L311.26,515.74 L311.51,515.74 L311.77,515.74 L312.02,515.74 L312.28,515.74 L312.53,515.74 L312.78,515.74 L313.04,515.74 L313.29,515.74 L313.55,515.74 L313.80,515.74 L314.06,515.74 L314.31,515.74 L314.56,515.74 L314.82,515.74 L315.07,515.74 L315.33,515.74 L315.58,515.74 L315.83,515.74 L316.09,515.74 L316.34,519.41 L316.60,519.41 L316.85,519.41 L317.11,519.41 L317.36,519.41 L317.61,519.41 L317.87,519.41 L318.12,519.41 L318.38,519.41 L318.63,519.41 L318.88,519.41 L319.14,519.41 L319.39,519.41 L319.65,519.41 L319.90,519.41 L320.15,519.41 L320.41,519.41 L320.66,519.41 L320.92,519.41 L321.17,519.41 L321.43,519.41 L321.68,519.41 L321.93,519.41 L322.19,519.41 L322.44,519.41 L322.70,519.41 L322.95,519.41 L323.20,519.41 L323.46,519.41 L323.71,519.41 L323.97,519.41 L324.22,519.41 L324.48,519.41 L324.73,519.41 L324.98,519.41 L325.24,519.41 L325.49,519.41 L325.75,519.41 L326.00,519.41 L326.25,523.08 L326.51,523.08 L326.76,523.08 L327.02,523.08 L327.27,523.08 L327.52,523.08 L327.78,523.08 L328.03,523.08 L328.29,523.08 L328.54,523.08 L328.80,523.08 L329.05,523.08 L329.30,523.08 L329.56,523.08 L329.81,523.08 L330.07,523.08 L330.32,523.08 L330.57,523.08 L330.83,523.08 L331.08,523.08 L331.34,523.08 L331.59,523.08 L331.84,523.08 L332.10,523.08 L332.35,523.08 L332.61,523.08 L332.86,523.08 L333.12,523.08 L333.37,523.08 L333.62,523.08 L333.88,523.08 L334.13,523.08 L334.39,523.08 L334.64,523.08 L334.89,523.08 L335.15,523.08 L335.40,523.08 L335.66,523.08 L335.91,523.08 L336.17,523.08 L336.42,526.75 L336.67,526.75 L336.93,526.75 L337.18,526.75 L337.44,526.75 L337.69,526.75 L337.94,526.75 L338.20,526.75 L338.45,526.75 L338.71,526.75 L338.96,526.75 L339.21,526.75 L339.47,526.75 L339.72,526.75 L339.98,526.75 L340.23,526.75 L340.49,526.75 L340.74,526.75 L340.99,526.75 L341.25,526.75 L341.50,526.75 L341.76,526.75 L342.01,526.75 L342.26,526.75 L342.52,526.75 L342.77,526.75 L343.03,526.75 L343.28,526.75 L343.54,526.75 L343.79,526.75 L344.04,526.75 L344.30,526.75 L344.55,526.75 L344.81,526.75 L345.06,526.75 L345.31,526.75 L345.57,526.75 L345.82,526.75 L346.08,526.75 L346.33,526.75 L346.58,526.75 L346.84,526.75 L347.09,530.42 L347.35,530.42 L347.60,530.42 L347.86,530.42 L348.11,530.42 L348.36,530.42 L348.62,530.42 L348.87,530.42 L349.13,530.42 L349.38,530.42 L349.63,530.42 L349.89,530.42 L350.14,530.42 L350.40,530.42 L350.65,530.42 L350.91,530.42 L351.16,530.42 L351.41,530.42 L351.67,530.42 L351.92,530.42 L352.18,530.42 L352.43,530.42 L352.68,530.42 L352.94,530.42 L353.19,530.42 L353.45,530.42 L353.70,530.42 L353.95,530.42 L354.21,530.42 L354.46,530.42 L354.72,530.42 L354.97,530.42 L355.23,530.42 L355.48,530.42 L355.73,530.42 L355.99,530.42 L356.24,530.42 L356.50,530.42 L356.75,530.42 L357.00,530.42 L357.26,530.42 L357.51,530.42 L357.77,534.09 L358.02,534.09 L358.27,534.09 L358.53,534.09 L358.78,534.09 L359.04,534.09 L359.29,534.09 L359.55,534.09 L359.80,534.09 L360.05,534.09 L360.31,534.09 L360.56,534.09 L360.82,534.09 L361.07,534.09 L361.32,534.09 L361.58,534.09 L361.83,534.09 L362.09,534.09 L362.34,534.09 L362.60,534.09 L362.85,534.09 L363.10,534.09 L363.36,534.09 L363.61,534.09 L363.87,534.09 L364.12,534.09 L364.37,534.09 L364.63,534.09 L364.88,534.09 L365.14,534.09 L365.39,534.09 L365.64,534.09 L365.90,534.09 L366.15,534.09 L366.41,534.09 L366.66,534.09 L366.92,534.09 L367.17,534.09 L367.42,534.09 L367.68,534.09 L367.93,534.09 L368.19,534.09 L368.44,534.09 L368.69,534.09 L368.95,537.76 L369.20,537.76 L369.46,537.76 L369.71,537.76 L369.97,537.76 L370.22,537.76 L370.47,537.76 L370.73,537.76 L370.98,537.76 L371.24,537.76 L371.49,537.76 L371.74,537.76 L372.00,537.76 L372.25,537.76 L372.51,537.76 L372.76,537.76 L373.01,537.76 L373.27,537.76 L373.52,537.76 L373.78,537.76 L374.03,537.76 L374.29,537.76 L374.54,537.76 L374.79,537.76 L375.05,537.76 L375.30,537.76 L375.56,537.76 L375.81,537.76 L376.06,537.76 L376.32,537.76 L376.57,537.76 L376.83,537.76 L377.08,537.76 L377.33,537.76 L377.59,537.76 L377.84,537.76 L378.10,537.76 L378.35,537.76 L378.61,537.76 L378.86,537.76 L379.11,537.76 L379.37,537.76 L379.62,537.76 L379.88,537.76 L380.13,537.76 L380.38,541.43 L380.64,541.43 L380.89,541.43 L381.15,541.43 L381.40,541.43 L381.66,541.43 L381.91,541.43 L382.16,541.43 L382.42,541.43 L382.67,541.43 L382.93,541.43 L383.18,541.43 L383.43,541.43 L383.69,541.43 L383.94,541.43 L384.20,541.43 L384.45,541.43 L384.70,541.43 L384.96,541.43 L385.21,541.43 L385.47,541.43 L385.72,541.43 L385.98,541.43 L386.23,541.43 L386.48,541.43 L386.74,541.43 L386.99,541.43 L387.25,541.43 L387.50,541.43 L387.75,541.43 L388.01,541.43 L388.26,541.43 L388.52,541.43 L388.77,541.43 L389.03,541.43 L389.28,541.43 L389.53,541.43 L389.79,541.43 L390.04,541.43 L390.30,541.43 L390.55,541.43 L390.80,541.43 L391.06,541.43 L391.31,541.43 L391.57,541.43 L391.82,541.43 L392.07,541.43 L392.33,545.10 L392.58,545.10 L392.84,545.10 L393.09,545.10 L393.35,545.10 L393.60,545.10 L393.85,545.10 L394.11,545.10 L394.36,545.10 L394.62,545.10 L394.87,545.10 L395.12,545.10 L395.38,545.10 L395.63,545.10 L395.89,545.10 L396.14,545.10 L396.39,545.10 L396.65,545.10 L396.90,545.10 L397.16,545.10 L397.41,545.10 L397.67,545.10 L397.92,545.10 L398.17,545.10 L398.43,545.10 L398.68,545.10 L398.94,545.10 L399.19,545.10 L399.44,545.10 L399.70,545.10 L399.95,545.10 L400.21,545.10 L400.46,545.10 L400.72,545.10 L400.97,545.10 L401.22,545.10 L401.48,545.10 L401.73,545.10 L401.99,545.10 L402.24,545.10 L402.49,545.10 L402.75,545.10 L403.00,545.10 L403.26,545.10 L403.51,545.10 L403.76,545.10 L404.02,545.10 L404.27,545.10 L404.53,548.77 L404.78,548.77 L405.04,548.77 L405.29,548.77 L405.54,548.77 L405.80,548.77 L406.05,548.77 L406.31,548.77 L406.56,548.77 L406.81,548.77 L407.07,548.77 L407.32,548.77 L407.58,548.77 L407.83,548.77 L408.09,548.77 L408.34,548.77 L408.59,548.77 L408.85,548.77 L409.10,548.77 L409.36,548.77 L409.61,548.77 L409.86,548.77 L410.12,548.77 L410.37,548.77 L410.63,548.77 L410.88,548.77 L411.13,548.77 L411.39,548.77 L411.64,548.77 L411.90,548.77 L412.15,548.77 L412.41,548.77 L412.66,548.77 L412.91,548.77 L413.17,548.77 L413.42,548.77 L413.68,548.77 L413.93,548.77 L414.18,548.77 L414.44,548.77 L414.69,548.77 L414.95,548.77 L415.20,548.77 L415.45,548.77 L415.71,548.77 L415.96,548.77 L416.22,548.77 L416.47,548.77 L416.73,548.77 L416.98,552.44 L417.23,552.44 L417.49,552.44 L417.74,552.44 L418.00,552.44 L418.25,552.44 L418.50,552.44 L418.76,552.44 L419.01,552.44 L419.27,552.44 L419.52,552.44 L419.78,552.44 L420.03,552.44 L420.28,552.44 L420.54,552.44 L420.79,552.44 L421.05,552.44 L421.30,552.44 L421.55,552.44 L421.81,552.44 L422.06,552.44 L422.32,552.44 L422.57,552.44 L422.82,552.44 L423.08,552.44 L423.33,552.44 L423.59,552.44 L423.84,552.44 L424.10,552.44 L424.35,552.44 L424.60,552.44 L424.86,552.44 L425.11,552.44 L425.37,552.44 L425.62,552.44 L425.87,552.44 L426.13,552.44 L426.38,552.44 L426.64,552.44 L426.89,552.44 L427.15,552.44 L427.40,552.44 L427.65,552.44 L427.91,552.44 L428.16,552.44 L428.42,552.44 L428.67,552.44 L428.92,552.44 L429.18,552.44 L429.43,552.44 L429.69,552.44 L429.94,556.11 L430.19,556.11 L430.45,556.11 L430.70,556.11 L430.96,556.11 L431.21,556.11 L431.47,556.11 L431.72,556.11 L431.97,556.11 L432.23,556.11 L432.48,556.11 L432.74,556.11 L432.99,556.11 L433.24,556.11 L433.50,556.11 L433.75,556.11 L434.01,556.11 L434.26,556.11 L434.52,556.11 L434.77,556.11 L435.02,556.11 L435.28,556.11 L435.53,556.11 L435.79,556.11 L436.04,556.11 L436.29,556.11 L436.55,556.11 L436.80,556.11 L437.06,556.11 L437.31,556.11 L437.56,556.11 L437.82,556.11 L438.07,556.11 L438.33,556.11 L438.58,556.11 L438.84,556.11 L439.09,556.11 L439.34,556.11 L439.60,556.11 L439.85,556.11 L440.11,556.11 L440.36,556.11 L440.61,556.11 L440.87,556.11 L441.12,556.11 L441.38,556.11 L441.63,556.11 L441.88,556.11 L442.14,556.11 L442.39,556.11 L442.65,556.11 L442.90,556.11 L443.16,556.11 L443.41,559.78 L443.66,559.78 L443.92,559.78 L444.17,559.78 L444.43,559.78 L444.68,559.78 L444.93,559.78 L445.19,559.78 L445.44,559.78 L445.70,559.78 L445.95,559.78 L446.21,559.78 L446.46,559.78 L446.71,559.78 L446.97,559.78 L447.22,559.78 L447.48,559.78 L447.73,559.78 L447.98,559.78 L448.24,559.78 L448.49,559.78 L448.75,559.78 L449.00,559.78 L449.25,559.78 L449.51,559.78 L449.76,559.78 L450.02,559.78 L450.27,559.78 L450.53,559.78 L450.78,559.78 L451.03,559.78 L451.29,559.78 L451.54,559.78 L451.80,559.78 L452.05,559.78 L452.30,559.78 L452.56,559.78 L452.81,559.78 L453.07,559.78 L453.32,559.78 L453.58,559.78 L453.83,559.78 L454.08,559.78 L454.34,559.78 L454.59,559.78 L454.85,559.78 L455.10,559.78 L455.35,559.78 L455.61,559.78 L455.86,559.78 L456.12,559.78 L456.37,559.78 L456.62,559.78 L456.88,559.78 L457.13,563.45 L457.39,563.45 L457.64,563.45 L457.90,563.45 L458.15,563.45 L458.40,563.45 L458.66,563.45 L458.91,563.45 L459.17,563.45 L459.42,563.45 L459.67,563.45 L459.93,563.45 L460.18,563.45 L460.44,563.45 L460.69,563.45 L460.94,563.45 L461.20,563.45 L461.45,563.45 L461.71,563.45 L461.96,563.45 L462.22,563.45 L462.47,563.45 L462.72,563.45 L462.98,563.45 L463.23,563.45 L463.49,563.45 L463.74,563.45 L463.99,563.45 L464.25,563.45 L464.50,563.45 L464.76,563.45 L465.01,563.45 L465.27,563.45 L465.52,563.45 L465.77,563.45 L466.03,563.45 L466.28,563.45 L466.54,563.45 L466.79,563.45 L467.04,563.45 L467.30,563.45 L467.55,563.45 L467.81,563.45 L468.06,563.45 L468.31,563.45 L468.57,563.45 L468.82,563.45 L469.08,563.45 L469.33,563.45 L469.59,563.45 L469.84,563.45 L470.09,563.45 L470.35,563.45 L470.60,563.45 L470.86,563.45 L471.11,563.45 L471.36,567.12 L471.62,567.12 L471.87,567.12 L472.13,567.12 L472.38,567.12 L472.64,567.12 L472.89,567.12 L473.14,567.12 L473.40,567.12 L473.65,567.12 L473.91,567.12 L474.16,567.12 L474.41,567.12 L474.67,567.12 L474.92,567.12 L475.18,567.12 L475.43,567.12 L475.68,567.12 L475.94,567.12 L476.19,567.12 L476.45,567.12 L476.70,567.12 L476.96,567.12 L477.21,567.12 L477.46,567.12 L477.72,567.12 L477.97,567.12 L478.23,567.12 L478.48,567.12 L478.73,567.12 L478.99,567.12 L479.24,567.12 L479.50,567.12 L479.75,567.12 L480.00,567.12 L480.26,567.12 L480.51,567.12 L480.77,567.12 L481.02,567.12 L481.28,567.12 L481.53,567.12 L481.78,567.12 L482.04,567.12 L482.29,567.12 L482.55,567.12 L482.80,567.12 L483.05,567.12 L483.31,567.12 L483.56,567.12 L483.82,567.12 L484.07,567.12 L484.33,567.12 L484.58,567.12 L484.83,567.12 L485.09,567.12 L485.34,567.12 L485.60,567.12 L485.85,567.12 L486.10,570.79 L486.36,570.79 L486.61,570.79 L486.87,570.79 L487.12,570.79 L487.37,570.79 L487.63,570.79 L487.88,570.79 L488.14,570.79 L488.39,570.79 L488.65,570.79 L488.90,570.79 L489.15,570.79 L489.41,570.79 L489.66,570.79 L489.92,570.79 L490.17,570.79 L490.42,570.79 L490.68,570.79 L490.93,570.79 L491.19,570.79 L491.44,570.79 L491.70,570.79 L491.95,570.79 L492.20,570.79 L492.46,570.79 L492.71,570.79 L492.97,570.79 L493.22,570.79 L493.47,570.79 L493.73,570.79 L493.98,570.79 L494.24,570.79 L494.49,570.79 L494.74,570.79 L495.00,570.79 L495.25,570.79 L495.51,570.79 L495.76,570.79 L496.02,570.79 L496.27,570.79 L496.52,570.79 L496.78,570.79 L497.03,570.79 L497.29,570.79 L497.54,570.79 L497.79,570.79 L498.05,570.79 L498.30,570.79 L498.56,570.79 L498.81,570.79 L499.06,570.79 L499.32,570.79 L499.57,570.79 L499.83,570.79 L500.08,570.79 L500.34,570.79 L500.59,570.79 L500.84,570.79 L501.10,574.46 L501.35,574.46 L501.61,574.46 L501.86,574.46 L502.11,574.46 L502.37,574.46 L502.62,574.46 L502.88,574.46 L503.13,574.46 L503.39,574.46 L503.64,574.46 L503.89,574.46 L504.15,574.46 L504.40,574.46 L504.66,574.46 L504.91,574.46 L505.16,574.46 L505.42,574.46 L505.67,574.46 L505.93,574.46 L506.18,574.46 L506.43,574.46 L506.69,574.46 L506.94,574.46 L507.20,574.46 L507.45,574.46 L507.71,574.46 L507.96,574.46 L508.21,574.46 L508.47,574.46 L508.72,574.46 L508.98,574.46 L509.23,574.46 L509.48,574.46 L509.74,574.46 L509.99,574.46 L510.25,574.46 L510.50,574.46 L510.76,574.46 L511.01,574.46 L511.26,574.46 L511.52,574.46 L511.77,574.46 L512.03,574.46 L512.28,574.46 L512.53,574.46 L512.79,574.46 L513.04,574.46 L513.30,574.46 L513.55,574.46 L513.80,574.46 L514.06,574.46 L514.31,574.46 L514.57,574.46 L514.82,574.46 L515.08,574.46 L515.33,574.46 L515.58,574.46 L515.84,574.46 L516.09,574.46 L516.35,574.46 L516.60,578.13 L516.85,578.13 L517.11,578.13 L517.36,578.13 L517.62,578.13 L517.87,578.13 L518.13,578.13 L518.38,578.13 L518.63,578.13 L518.89,578.13 L519.14,578.13 L519.40,578.13 L519.65,578.13 L519.90,578.13 L520.16,578.13 L520.41,578.13 L520.67,578.13 L520.92,578.13 L521.17,578.13 L521.43,578.13 L521.68,578.13 L521.94,578.13 L522.19,578.13 L522.45,578.13 L522.70,578.13 L522.95,578.13 L523.21,578.13 L523.46,578.13 L523.72,578.13 L523.97,578.13 L524.22,578.13 L524.48,578.13 L524.73,578.13 L524.99,578.13 L525.24,578.13 L525.49,578.13 L525.75,578.13 L526.00,578.13 L526.26,578.13 L526.51,578.13 L526.77,578.13 L527.02,578.13 L527.27,578.13 L527.53,578.13 L527.78,578.13 L528.04,578.13 L528.29,578.13 L528.54,578.13 L528.80,578.13 L529.05,578.13 L529.31,578.13 L529.56,578.13 L529.82,578.13 L530.07,578.13 L530.32,578.13 L530.58,578.13 L530.83,578.13 L531.09,578.13 L531.34,578.13 L531.59,578.13 L531.85,578.13 L532.10,578.13 L532.36,578.13 L532.61,581.80 L532.86,581.80 L533.12,581.80 L533.37,581.80 L533.63,581.80 L533.88,581.80 L534.14,581.80 L534.39,581.80 L534.64,581.80 L534.90,581.80 L535.15,581.80 L535.41,581.80 L535.66,581.80 L535.91,581.80 L536.17,581.80 L536.42,581.80 L536.68,581.80 L536.93,581.80 L537.19,581.80 L537.44,581.80 L537.69,581.80 L537.95,581.80 L538.20,581.80 L538.46,581.80 L538.71,581.80 L538.96,581.80 L539.22,581.80 L539.47,581.80 L539.73,581.80 L539.98,581.80 L540.23,581.80 L540.49,581.80 L540.74,581.80 L541.00,581.80 L541.25,581.80 L541.51,581.80 L541.76,581.80 L542.01,581.80 L542.27,581.80 L542.52,581.80 L542.78,581.80 L543.03,581.80 L543.28,581.80 L543.54,581.80 L543.79,581.80 L544.05,581.80 L544.30,581.80 L544.55,581.80 L544.81,581.80 L545.06,581.80 L545.32,581.80 L545.57,581.80 L545.83,581.80 L546.08,581.80 L546.33,581.80 L546.59,581.80 L546.84,581.80 L547.10,581.80 L547.35,581.80 L547.60,581.80 L547.86,581.80 L548.11,581.80 L548.37,581.80 L548.62,581.80 L548.88,581.80 L549.13,581.80 L549.38,581.80 L549.64,581.80 L549.89,581.80 L550.15,581.80 L550.40,581.80" stroke="#0000ff" stroke-width="1.8" stroke-dasharray="5.4 1.9 1.4 2.0" fill="none"/>
</g>
<path d="M130.7,194.5 H141.5 M136.1,189.1 V199.9 M130.7,189.1 L141.5,199.9 M130.7,199.9 L141.5,189.1" stroke="#000" stroke-width="1.3" fill="none"/>
<path d="M130.79999999999998,485.8 H141.6 M136.2,480.40000000000003 V491.2 M130.79999999999998,480.40000000000003 L141.6,491.2 M130.79999999999998,491.2 L141.6,480.40000000000003" stroke="#000" stroke-width="1.3" fill="none"/>
<polygon points="106.39,157.72 107.28,165.54 100.18,168.93 107.89,170.50 108.92,178.30 112.80,171.45 120.53,172.88 115.22,167.08 118.97,160.17 111.81,163.43" fill="#ff0000"/>
<polygon points="154.59,396.02 155.48,403.84 148.38,407.23 156.09,408.80 157.12,416.60 161.00,409.75 168.73,411.18 163.42,405.38 167.17,398.47 160.01,401.73" fill="#ff0000"/>
<text transform="translate(61.60,50.62) scale(1,1.06)" font-size="24.0" text-anchor="end">30</text>
<text transform="translate(61.60,341.97) scale(1,1.06)" font-size="24.0" text-anchor="end">30</text>
<text transform="translate(61.60,189.70) scale(1,1.06)" font-size="24.0" text-anchor="end">10</text>
<text transform="translate(61.60,480.48) scale(1,1.06)" font-size="24.0" text-anchor="end">10</text>
<text transform="translate(61.60,277.45) scale(1,1.06)" font-size="24.0" text-anchor="end">5</text>
<text transform="translate(61.60,567.87) scale(1,1.06)" font-size="24.0" text-anchor="end">5</text>
<text transform="translate(111.95,618.30) scale(1,1.06)" font-size="24.0" text-anchor="middle">10</text>
<text transform="translate(199.64,618.30) scale(1,1.06)" font-size="24.0" text-anchor="middle">20</text>
<text transform="translate(287.33,618.30) scale(1,1.06)" font-size="24.0" text-anchor="middle">30</text>
<text transform="translate(375.02,618.30) scale(1,1.06)" font-size="24.0" text-anchor="middle">40</text>
<text transform="translate(462.71,618.30) scale(1,1.06)" font-size="24.0" text-anchor="middle">50</text>
<text transform="translate(550.40,618.30) scale(1,1.06)" font-size="24.0" text-anchor="middle">60</text>
<text transform="translate(309.80,644.30) scale(1,1.06)" font-size="24.0" text-anchor="middle">Orbital Period (minutes)</text>
<text transform="translate(19.90,151.95) rotate(-90) scale(1,1.06)" font-size="24.3" text-anchor="middle">Temperature (10<tspan font-size="9.3" dy="-10.0">3</tspan><tspan dy="10.0">K)</tspan></text>
<text transform="translate(19.90,442.85) rotate(-90) scale(1,1.06)" font-size="24.3" text-anchor="middle">Temperature (10<tspan font-size="9.3" dy="-10.0">3</tspan><tspan dy="10.0">K)</tspan></text>
<rect x="310.0" y="26.5" width="227.5" height="89.3" fill="#fff" stroke="#000" stroke-width="0.6"/>
<text transform="translate(430.40,46.20) scale(1,1.025)" font-size="20.2" text-anchor="end">t<tspan font-size="12.5" dy="4.2">coup</tspan><tspan dy="-4.2">=10</tspan><tspan font-size="8.4" dy="-7.6">0</tspan><tspan dy="7.6"> yr</tspan></text>
<text transform="translate(430.40,66.00) scale(1,1.025)" font-size="20.2" text-anchor="end">t<tspan font-size="12.5" dy="4.2">coup</tspan><tspan dy="-4.2">=10</tspan><tspan font-size="8.4" dy="-7.6">3</tspan><tspan dy="7.6"> yr</tspan></text>
<text transform="translate(430.40,86.20) scale(1,1.025)" font-size="20.2" text-anchor="end">T<tspan font-size="12.5" dy="4.9">eff,heat</tspan></text>
<text transform="translate(430.40,106.30) scale(1,1.025)" font-size="20.2" text-anchor="end">No Tidal Heat</text>
<path d="M443.1,40.8 H519" stroke="#000" stroke-width="2" fill="none" stroke-linejoin="round"/>
<path d="M443.1,61.0 H519" stroke="#ff0000" stroke-width="2" stroke-dasharray="5.2 4.3" fill="none"/>
<path d="M443.1,80.7 H519" stroke="#0000ff" stroke-width="1.8" stroke-dasharray="5.4 1.9 1.4 2.0" fill="none"/>
<path d="M443.1,100.7 H519" stroke="#000" stroke-width="1.55" stroke-dasharray="1.2 1.7" fill="none"/>
</svg>
</body></html>
